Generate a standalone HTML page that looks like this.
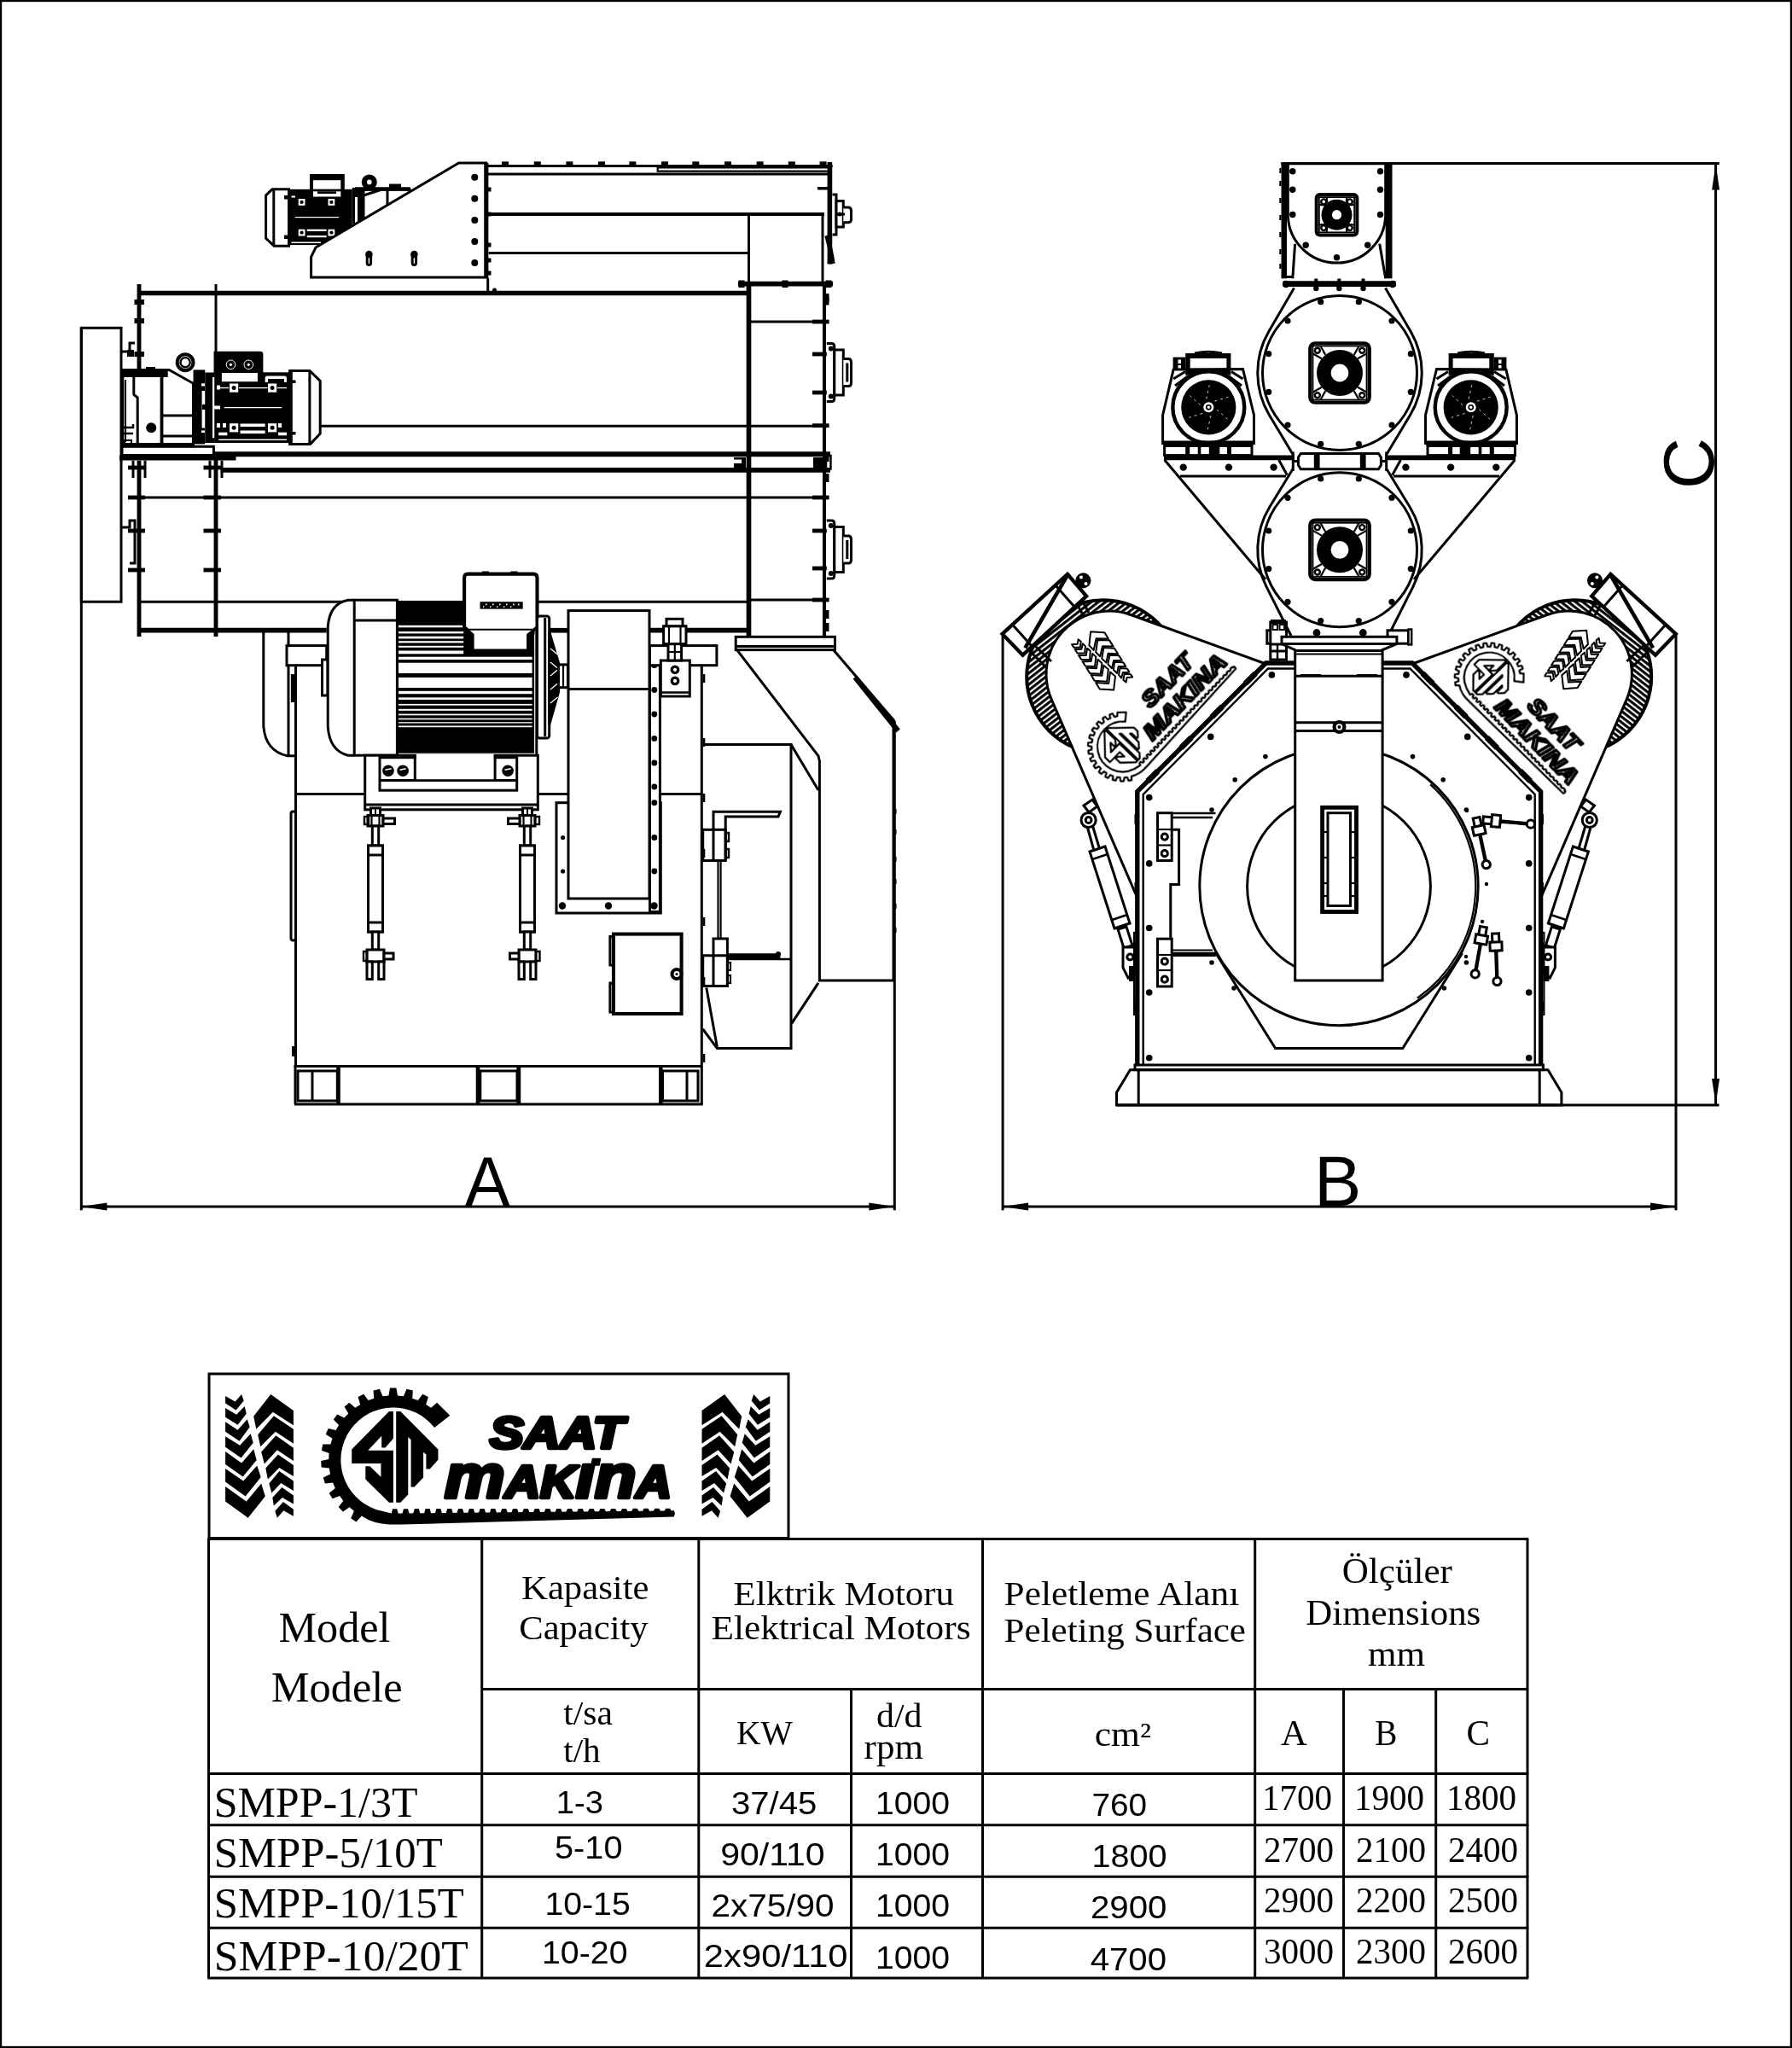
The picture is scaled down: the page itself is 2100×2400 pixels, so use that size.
<!DOCTYPE html>
<html><head><meta charset="utf-8">
<style>
html,body{margin:0;padding:0;background:#fff;}
body{width:2100px;height:2400px;overflow:hidden;position:relative;font-family:"Liberation Sans",sans-serif;}
svg{position:absolute;left:0;top:0;display:block;filter:grayscale(1);}
</style></head><body>
<svg width="2100" height="2400" viewBox="0 0 2100 2400">
<rect x="0" y="0" width="2100" height="2400" fill="#fff"/>
<rect x="1.1" y="1.1" width="2097.8" height="2397.8" fill="none" stroke="#000" stroke-width="2.2"/>
<defs>
<g id="tread">
<polygon points="264.1,1636.1 275.6,1642.6 283.1,1634.1 285.7,1641.6 276.6,1652.6 264.1,1644.6"/>
<polygon points="264.1,1650.1 277.1,1657.7 286.7,1648.1 288.7,1656.7 278.6,1669.7 264.1,1660.7"/>
<polygon points="264.1,1666.2 278.6,1675.7 289.7,1663.2 292.7,1672.2 280.6,1688.8 264.1,1677.8"/>
<polygon points="264.1,1683.3 281.1,1693.8 293.7,1680.3 296.7,1690.8 282.6,1708.4 264.1,1695.8"/>
<polygon points="264.1,1700.9 283.1,1714.4 297.2,1698.3 300.7,1710.9 284.7,1730.5 264.1,1715.9"/>
<polygon points="264.1,1720.9 285.2,1735.5 301.2,1717.4 305.7,1731.0 287.7,1753.6 264.1,1736.5"/>
<polygon points="264.1,1742.0 288.7,1759.6 306.2,1738.5 310.8,1753.6 290.7,1778.7 264.1,1759.6"/>
<polygon points="317.3,1634.1 343.9,1653.1 343.9,1670.2 319.8,1654.7 300.2,1674.7 297.2,1659.7"/>
<polygon points="320.8,1659.2 343.9,1674.7 343.9,1691.8 322.8,1677.8 305.2,1695.3 302.2,1681.3"/>
<polygon points="323.3,1682.3 343.9,1696.8 343.9,1711.9 324.8,1699.3 309.8,1715.4 306.2,1701.4"/>
<polygon points="325.8,1704.4 343.9,1716.9 343.9,1730.0 327.3,1719.9 313.8,1733.5 311.3,1720.4"/>
<polygon points="327.3,1724.0 343.9,1735.5 343.9,1747.1 329.3,1738.0 318.3,1749.6 315.3,1738.5"/>
<polygon points="330.4,1743.0 343.9,1752.6 343.9,1762.6 330.9,1755.1 320.8,1764.6 319.3,1755.1"/>
<polygon points="331.9,1760.1 343.9,1768.7 343.9,1776.7 332.4,1770.2 324.8,1778.7 322.3,1770.7"/>
</g>
<path id="gear" d="M509.1,1673.0 L527.3,1658.8 L512.1,1643.7 L505.1,1649.7 L499.2,1645.9 L501.9,1637.0 L495.2,1633.7 L489.8,1641.1 L483.2,1638.7 L483.8,1629.5 L476.5,1627.8 L472.9,1636.3 L466.0,1635.5 L464.4,1626.4 L457.0,1626.4 L455.4,1635.5 L448.5,1636.3 L444.9,1627.8 L437.6,1629.5 L438.2,1638.7 L431.6,1641.1 L426.2,1633.7 L419.5,1637.0 L422.2,1645.9 L416.3,1649.7 L409.3,1643.7 L403.6,1648.5 L408.3,1656.5 L403.4,1661.6 L395.2,1657.4 L390.8,1663.4 L397.1,1670.0 L393.6,1676.1 L384.7,1673.9 L381.7,1680.8 L389.5,1685.8 L387.4,1692.5 L378.2,1692.5 L376.9,1699.8 L385.6,1702.9 L385.2,1709.9 L376.2,1712.0 L376.6,1719.4 L385.8,1720.4 L387.0,1727.4 L378.8,1731.4 L380.9,1738.6 L390.1,1737.4 L392.8,1743.9 L385.7,1749.8 L389.5,1756.2 L398.1,1753.0 L402.3,1758.7 L396.7,1766.0 L401.9,1771.4 L409.5,1766.3 L414.9,1770.8 L411.2,1779.3 L417.4,1783.4 L423.7,1776.6 L432.2,1781.3 L439.8,1783.9 L447.5,1785.6 L455.4,1786.6 L470.0,1786.6 L789.7,1777.5 L791.0,1773.5 L789.7,1770.0 L786.7,1770.4 L785.2,1767.8 L780.2,1767.8 L778.7,1770.4 L773.9,1770.6 L772.4,1767.8 L767.4,1767.8 L765.9,1770.6 L761.1,1770.7 L759.6,1767.8 L754.6,1767.8 L753.1,1770.7 L748.3,1770.8 L746.8,1767.8 L741.8,1767.8 L740.3,1770.8 L735.5,1770.9 L734.0,1767.9 L729.0,1767.9 L727.5,1770.9 L722.7,1771.1 L721.2,1767.9 L716.2,1767.9 L714.7,1771.1 L709.9,1771.2 L708.4,1767.9 L703.4,1767.9 L701.9,1771.2 L697.1,1771.3 L695.6,1767.9 L690.6,1767.9 L689.1,1771.3 L684.3,1771.4 L682.8,1767.9 L677.8,1767.9 L676.3,1771.4 L671.5,1771.6 L670.0,1767.9 L665.0,1767.9 L663.5,1771.6 L658.7,1771.7 L657.2,1768.0 L652.2,1768.0 L650.7,1771.7 L645.9,1771.8 L644.4,1768.0 L639.4,1768.0 L637.9,1771.8 L633.1,1771.9 L631.6,1768.0 L626.6,1768.0 L625.1,1771.9 L620.3,1772.1 L618.8,1768.0 L613.8,1768.0 L612.3,1772.1 L607.5,1772.2 L606.0,1768.0 L601.0,1768.0 L599.5,1772.2 L594.7,1772.3 L593.2,1768.0 L588.2,1768.0 L586.7,1772.3 L581.9,1772.5 L580.4,1768.0 L575.4,1768.0 L573.9,1772.5 L569.1,1772.6 L567.6,1768.1 L562.6,1768.1 L561.1,1772.6 L556.3,1772.7 L554.8,1768.1 L549.8,1768.1 L548.3,1772.7 L543.5,1772.8 L542.0,1768.1 L537.0,1768.1 L535.5,1772.8 L530.7,1773.0 L529.2,1768.1 L524.2,1768.1 L522.7,1773.0 L517.9,1773.1 L516.4,1768.1 L511.4,1768.1 L509.9,1773.1 L505.1,1773.2 L503.6,1768.1 L498.6,1768.1 L497.1,1773.2 L492.3,1773.3 L490.8,1768.1 L485.8,1768.1 L484.3,1773.3 L479.5,1773.5 L478.0,1768.2 L473.0,1768.2 L471.5,1773.5 L466.7,1773.6 L465.2,1768.2 L460.2,1768.2 L458.7,1773.6 L440.7,1768.9 A61.4,61.4 0 1 1 509.1,1673.0 Z"/>
<g id="sm">
<polygon points="455.9,1654.1 460.9,1654.1 460.9,1685.7 451.5,1696.6 447.2,1696.6 447.2,1682.8 431.2,1699.8 460.9,1699.8 460.9,1760.8 455.9,1760.8 428.3,1733.6 428.3,1718.3 433.4,1718.3 446.4,1730.7 446.4,1715.1 412.2,1715.1 412.2,1698.4"/>
<polygon points="464.2,1654.1 469.3,1654.1 513.5,1698.4 513.5,1710.4 503.7,1721.6 499.4,1721.6 499.4,1704.6 496.1,1701.7 496.1,1731.4 485.6,1742.6 481.6,1742.6 481.6,1687.2 478.3,1683.9 478.3,1751.4 469.3,1760.8 464.2,1760.8"/>
</g>
<g id="ltxt" font-family="Liberation Sans" font-weight="bold" font-style="italic" stroke-linejoin="round">
<text x="574" y="1696.5" font-size="52" textLength="157" lengthAdjust="spacingAndGlyphs" stroke-width="4.5">SAAT</text>
<text x="521" y="1755" textLength="266" lengthAdjust="spacingAndGlyphs" stroke-width="4.6"><tspan font-size="73">m</tspan><tspan font-size="53">AK</tspan><tspan font-size="73">ın</tspan><tspan font-size="53">A</tspan></text>
<polygon points="694.5,1709.5 703.5,1709.5 702,1717 693,1717" stroke-width="1.5"/>
</g>
<g id="ltxt2" font-family="Liberation Sans" font-weight="bold" font-style="italic" stroke-linejoin="round" stroke-width="6.2">
<text x="574" y="1696.5" font-size="52" textLength="157" lengthAdjust="spacingAndGlyphs">SAAT</text>
<text x="521" y="1755" font-size="52" textLength="266" lengthAdjust="spacingAndGlyphs">MAKINA</text>
</g>
<g id="logo"><use href="#gear"/><use href="#sm"/><use href="#ltxt"/></g>
<pattern id="hatchL" width="5.2" height="5.2" patternUnits="userSpaceOnUse" patternTransform="rotate(-38)"><rect width="5.2" height="5.2" fill="#fff"/><rect width="5.2" height="3.1" fill="#000"/></pattern>
<pattern id="hatchR" width="5.2" height="5.2" patternUnits="userSpaceOnUse" patternTransform="rotate(38)"><rect width="5.2" height="5.2" fill="#fff"/><rect width="5.2" height="3.1" fill="#000"/></pattern>
<filter id="gray" x="-5%" y="-5%" width="110%" height="110%"><feColorMatrix type="saturate" values="0"/></filter>
</defs>
<rect x="245.0" y="1610.0" width="679.0" height="192.5" fill="none" stroke="#000" stroke-width="3.0"/>
<g fill="#000" stroke="#000">
<use href="#tread" stroke="none"/>
<use href="#tread" stroke="none" transform="translate(1166.4,0) scale(-1,1)"/>
<use href="#gear" stroke="none"/><use href="#sm" stroke="none"/><use href="#ltxt"/>
</g>
<line x1="243.3" y1="1803.5" x2="1791.2" y2="1803.5" stroke="#000" stroke-width="3.0" />
<line x1="243.3" y1="2078.5" x2="1791.2" y2="2078.5" stroke="#000" stroke-width="3.0" />
<line x1="243.3" y1="2138.8" x2="1791.2" y2="2138.8" stroke="#000" stroke-width="3.0" />
<line x1="243.3" y1="2199.2" x2="1791.2" y2="2199.2" stroke="#000" stroke-width="3.0" />
<line x1="243.3" y1="2259.3" x2="1791.2" y2="2259.3" stroke="#000" stroke-width="3.0" />
<line x1="243.3" y1="2318.0" x2="1791.2" y2="2318.0" stroke="#000" stroke-width="3.0" />
<line x1="564.7" y1="1979.5" x2="1790.0" y2="1979.5" stroke="#000" stroke-width="3.0" />
<line x1="244.5" y1="1803.5" x2="244.5" y2="2318.0" stroke="#000" stroke-width="3.0" />
<line x1="564.7" y1="1803.5" x2="564.7" y2="2318.0" stroke="#000" stroke-width="3.0" />
<line x1="818.8" y1="1803.5" x2="818.8" y2="2318.0" stroke="#000" stroke-width="3.0" />
<line x1="1151.5" y1="1803.5" x2="1151.5" y2="2318.0" stroke="#000" stroke-width="3.0" />
<line x1="1470.7" y1="1803.5" x2="1470.7" y2="2318.0" stroke="#000" stroke-width="3.0" />
<line x1="1790.0" y1="1803.5" x2="1790.0" y2="2318.0" stroke="#000" stroke-width="3.0" />
<line x1="997.5" y1="1979.5" x2="997.5" y2="2318.0" stroke="#000" stroke-width="3.0" />
<line x1="1574.5" y1="1979.5" x2="1574.5" y2="2318.0" stroke="#000" stroke-width="3.0" />
<line x1="1682.7" y1="1979.5" x2="1682.7" y2="2318.0" stroke="#000" stroke-width="3.0" />
<text x="326.4" y="1923.9" font-family="Liberation Serif" font-size="50" text-anchor="start" textLength="131.2" lengthAdjust="spacingAndGlyphs" >Model</text>
<text x="317.7" y="1993.5" font-family="Liberation Serif" font-size="50" text-anchor="start" textLength="154.0" lengthAdjust="spacingAndGlyphs" >Modele</text>
<text x="611.0" y="1873.7" font-family="Liberation Serif" font-size="40" text-anchor="start" textLength="149.6" lengthAdjust="spacingAndGlyphs" >Kapasite</text>
<text x="608.3" y="1920.6" font-family="Liberation Serif" font-size="40" text-anchor="start" textLength="151.3" lengthAdjust="spacingAndGlyphs" >Capacity</text>
<text x="660.2" y="2021.0" font-family="Liberation Serif" font-size="40" text-anchor="start" textLength="57.8" lengthAdjust="spacingAndGlyphs" >t/sa</text>
<text x="660.2" y="2064.5" font-family="Liberation Serif" font-size="40" text-anchor="start" textLength="43.5" lengthAdjust="spacingAndGlyphs" >t/h</text>
<text x="859.6" y="1881.0" font-family="Liberation Serif" font-size="40" text-anchor="start" textLength="258.4" lengthAdjust="spacingAndGlyphs" >Elktrik Motoru</text>
<text x="833.5" y="1921.2" font-family="Liberation Serif" font-size="40" text-anchor="start" textLength="304.0" lengthAdjust="spacingAndGlyphs" >Elektrical Motors</text>
<text x="863.0" y="2044.4" font-family="Liberation Serif" font-size="40" text-anchor="start" textLength="66.0" lengthAdjust="spacingAndGlyphs" >KW</text>
<text x="1027.0" y="2024.3" font-family="Liberation Serif" font-size="40" text-anchor="start" textLength="53.5" lengthAdjust="spacingAndGlyphs" >d/d</text>
<text x="1012.6" y="2061.2" font-family="Liberation Serif" font-size="40" text-anchor="start" textLength="69.3" lengthAdjust="spacingAndGlyphs" >rpm</text>
<text x="1176.6" y="1881.0" font-family="Liberation Serif" font-size="40" text-anchor="start" textLength="275.7" lengthAdjust="spacingAndGlyphs" >Peletleme Alanı</text>
<text x="1176.6" y="1924.0" font-family="Liberation Serif" font-size="40" text-anchor="start" textLength="283.4" lengthAdjust="spacingAndGlyphs" >Peleting Surface</text>
<text x="1282.8" y="2046.1" font-family="Liberation Serif" font-size="40" text-anchor="start" textLength="66.2" lengthAdjust="spacingAndGlyphs" >cm²</text>
<text x="1572.8" y="1855.3" font-family="Liberation Serif" font-size="43" text-anchor="start" textLength="129.0" lengthAdjust="spacingAndGlyphs" >Ölçüler</text>
<text x="1530.3" y="1903.8" font-family="Liberation Serif" font-size="43" text-anchor="start" textLength="205.0" lengthAdjust="spacingAndGlyphs" >Dimensions</text>
<text x="1603.0" y="1952.4" font-family="Liberation Serif" font-size="43" text-anchor="start" textLength="67.0" lengthAdjust="spacingAndGlyphs" >mm</text>
<text x="1500.9" y="2045.1" font-family="Liberation Serif" font-size="43" text-anchor="start" textLength="30.8" lengthAdjust="spacingAndGlyphs" >A</text>
<text x="1611.3" y="2045.1" font-family="Liberation Serif" font-size="43" text-anchor="start" textLength="26.2" lengthAdjust="spacingAndGlyphs" >B</text>
<text x="1718.5" y="2045.1" font-family="Liberation Serif" font-size="43" text-anchor="start" textLength="27.5" lengthAdjust="spacingAndGlyphs" >C</text>
<text x="250.7" y="2128.8" font-family="Liberation Serif" font-size="50" text-anchor="start" textLength="238.7" lengthAdjust="spacingAndGlyphs" >SMPP-1/3T</text>
<text x="250.7" y="2188.4" font-family="Liberation Serif" font-size="50" text-anchor="start" textLength="268.0" lengthAdjust="spacingAndGlyphs" >SMPP-5/10T</text>
<text x="250.7" y="2247.0" font-family="Liberation Serif" font-size="50" text-anchor="start" textLength="293.0" lengthAdjust="spacingAndGlyphs" >SMPP-10/15T</text>
<text x="250.7" y="2308.6" font-family="Liberation Serif" font-size="50" text-anchor="start" textLength="298.2" lengthAdjust="spacingAndGlyphs" >SMPP-10/20T</text>
<text x="651.8" y="2124.8" font-family="Liberation Sans" font-size="37" text-anchor="start" textLength="55.2" lengthAdjust="spacingAndGlyphs" >1-3</text>
<text x="650.0" y="2178.3" font-family="Liberation Sans" font-size="37" text-anchor="start" textLength="79.5" lengthAdjust="spacingAndGlyphs" >5-10</text>
<text x="638.4" y="2243.6" font-family="Liberation Sans" font-size="37" text-anchor="start" textLength="100.4" lengthAdjust="spacingAndGlyphs" >10-15</text>
<text x="635.0" y="2301.4" font-family="Liberation Sans" font-size="37" text-anchor="start" textLength="100.5" lengthAdjust="spacingAndGlyphs" >10-20</text>
<text x="856.9" y="2125.8" font-family="Liberation Sans" font-size="37" text-anchor="start" textLength="100.4" lengthAdjust="spacingAndGlyphs" >37/45</text>
<text x="844.2" y="2185.7" font-family="Liberation Sans" font-size="37" text-anchor="start" textLength="122.5" lengthAdjust="spacingAndGlyphs" >90/110</text>
<text x="833.5" y="2246.0" font-family="Liberation Sans" font-size="37" text-anchor="start" textLength="143.9" lengthAdjust="spacingAndGlyphs" >2x75/90</text>
<text x="824.8" y="2305.0" font-family="Liberation Sans" font-size="37" text-anchor="start" textLength="168.8" lengthAdjust="spacingAndGlyphs" >2x90/110</text>
<text x="1026.0" y="2125.8" font-family="Liberation Sans" font-size="37" text-anchor="start" textLength="87.0" lengthAdjust="spacingAndGlyphs" >1000</text>
<text x="1026.0" y="2185.7" font-family="Liberation Sans" font-size="37" text-anchor="start" textLength="87.0" lengthAdjust="spacingAndGlyphs" >1000</text>
<text x="1026.0" y="2246.0" font-family="Liberation Sans" font-size="37" text-anchor="start" textLength="87.0" lengthAdjust="spacingAndGlyphs" >1000</text>
<text x="1026.0" y="2307.2" font-family="Liberation Sans" font-size="37" text-anchor="start" textLength="87.0" lengthAdjust="spacingAndGlyphs" >1000</text>
<text x="1279.4" y="2127.5" font-family="Liberation Sans" font-size="37" text-anchor="start" textLength="64.6" lengthAdjust="spacingAndGlyphs" >760</text>
<text x="1279.4" y="2188.4" font-family="Liberation Sans" font-size="37" text-anchor="start" textLength="88.1" lengthAdjust="spacingAndGlyphs" >1800</text>
<text x="1278.0" y="2248.0" font-family="Liberation Sans" font-size="37" text-anchor="start" textLength="89.5" lengthAdjust="spacingAndGlyphs" >2900</text>
<text x="1277.7" y="2308.6" font-family="Liberation Sans" font-size="37" text-anchor="start" textLength="89.3" lengthAdjust="spacingAndGlyphs" >4700</text>
<text x="1479.0" y="2121.4" font-family="Liberation Serif" font-size="42" text-anchor="start" textLength="82.0" lengthAdjust="spacingAndGlyphs" >1700</text>
<text x="1587.0" y="2121.4" font-family="Liberation Serif" font-size="42" text-anchor="start" textLength="82.0" lengthAdjust="spacingAndGlyphs" >1900</text>
<text x="1695.0" y="2121.4" font-family="Liberation Serif" font-size="42" text-anchor="start" textLength="82.0" lengthAdjust="spacingAndGlyphs" >1800</text>
<text x="1481.0" y="2181.7" font-family="Liberation Serif" font-size="42" text-anchor="start" textLength="82.0" lengthAdjust="spacingAndGlyphs" >2700</text>
<text x="1589.0" y="2181.7" font-family="Liberation Serif" font-size="42" text-anchor="start" textLength="82.0" lengthAdjust="spacingAndGlyphs" >2100</text>
<text x="1697.0" y="2181.7" font-family="Liberation Serif" font-size="42" text-anchor="start" textLength="82.0" lengthAdjust="spacingAndGlyphs" >2400</text>
<text x="1481.0" y="2241.3" font-family="Liberation Serif" font-size="42" text-anchor="start" textLength="82.0" lengthAdjust="spacingAndGlyphs" >2900</text>
<text x="1589.0" y="2241.3" font-family="Liberation Serif" font-size="42" text-anchor="start" textLength="82.0" lengthAdjust="spacingAndGlyphs" >2200</text>
<text x="1697.0" y="2241.3" font-family="Liberation Serif" font-size="42" text-anchor="start" textLength="82.0" lengthAdjust="spacingAndGlyphs" >2500</text>
<text x="1481.0" y="2300.5" font-family="Liberation Serif" font-size="42" text-anchor="start" textLength="82.0" lengthAdjust="spacingAndGlyphs" >3000</text>
<text x="1589.0" y="2300.5" font-family="Liberation Serif" font-size="42" text-anchor="start" textLength="82.0" lengthAdjust="spacingAndGlyphs" >2300</text>
<text x="1697.0" y="2300.5" font-family="Liberation Serif" font-size="42" text-anchor="start" textLength="82.0" lengthAdjust="spacingAndGlyphs" >2600</text>
<line x1="95.3" y1="384.0" x2="95.3" y2="1418.3" stroke="#000" stroke-width="3.0" />
<line x1="1048.3" y1="845.0" x2="1048.3" y2="1418.3" stroke="#000" stroke-width="3.0" />
<line x1="95.3" y1="1414.0" x2="1048.3" y2="1414.0" stroke="#000" stroke-width="3.0" />
<polygon points="95.3,1414.0 125.3,1409.5 125.3,1418.5" fill="#000"/>
<polygon points="1048.3,1414.0 1018.3,1418.5 1018.3,1409.5" fill="#000"/>
<text x="544.6" y="1413.5" font-family="Liberation Sans" font-size="83" text-anchor="start" textLength="53.5" lengthAdjust="spacingAndGlyphs" >A</text>
<line x1="1175.1" y1="742.0" x2="1175.1" y2="1418.3" stroke="#000" stroke-width="3.0" />
<line x1="1964.0" y1="742.0" x2="1964.0" y2="1418.3" stroke="#000" stroke-width="3.0" />
<line x1="1175.1" y1="1414.0" x2="1964.0" y2="1414.0" stroke="#000" stroke-width="3.0" />
<polygon points="1175.1,1414.0 1205.1,1409.5 1205.1,1418.5" fill="#000"/>
<polygon points="1964.0,1414.0 1934.0,1418.5 1934.0,1409.5" fill="#000"/>
<text x="1540.0" y="1413.0" font-family="Liberation Sans" font-size="83" text-anchor="start" >B</text>
<line x1="1501.5" y1="191.5" x2="2014.8" y2="191.5" stroke="#000" stroke-width="3.0" />
<line x1="1308.5" y1="1295.0" x2="2014.6" y2="1295.0" stroke="#000" stroke-width="3.0" />
<line x1="2010.6" y1="191.5" x2="2010.6" y2="1295.0" stroke="#000" stroke-width="3.0" />
<polygon points="2010.6,192.5 2015.1,222.5 2006.1,222.5" fill="#000"/>
<polygon points="2010.6,1294.0 2006.1,1264.0 2015.1,1264.0" fill="#000"/>
<text transform="translate(2007.5,543) rotate(-90)" x="0" y="0" font-family="Liberation Sans" font-size="83" text-anchor="middle">C</text>
<g id="left">
<rect x="412.7" y="220.0" width="13.3" height="42.0" fill="#000"/>
<rect x="416.0" y="231.0" width="3.0" height="31.0" fill="#fff"/>
<rect x="405.5" y="228.0" width="2.8" height="38.0" fill="#fff"/>
<rect x="426.0" y="222.0" width="54.0" height="40.0" fill="#fff" stroke="#000" stroke-width="3.0"/>
<line x1="416.0" y1="221.5" x2="480.8" y2="221.5" stroke="#000" stroke-width="4.32" />
<line x1="454.0" y1="223.0" x2="454.0" y2="240.0" stroke="#000" stroke-width="3.0" />
<path d="M426.0,229.0 L446.0,222.5" fill="none" stroke="#000" stroke-width="3.0" stroke-linejoin="miter"/>
<circle cx="432.8" cy="213.4" r="9.0" fill="#000"/>
<circle cx="432.8" cy="213.4" r="2.8" fill="#fff"/>
<rect x="456.0" y="215.5" width="14.0" height="5.5" fill="#000"/>
<path d="M319.0,221.8 L338.5,221.8 L338.5,288.2 L321.2,288.2 L311.6,279.3 L311.6,229.0 Z" fill="#fff" stroke="#000" stroke-width="3.0" stroke-linejoin="miter"/>
<line x1="320.8" y1="223.0" x2="320.8" y2="287.0" stroke="#000" stroke-width="3.0" />
<rect x="363.0" y="204.0" width="40.8" height="20.0" fill="#000"/>
<rect x="367.0" y="211.2" width="32.3" height="10.6" fill="#fff"/>
<rect x="338.5" y="221.8" width="74.2" height="65.3" fill="#000"/>
<rect x="367.0" y="224.3" width="32.3" height="6.2" fill="#fff"/>
<rect x="372.0" y="224.3" width="22.0" height="2.7" fill="#000"/>
<rect x="349.7" y="233.0" width="7.8" height="7.8" fill="#fff"/>
<circle cx="353.6" cy="236.9" r="2.1" fill="#000"/>
<rect x="384.5" y="233.0" width="7.8" height="7.8" fill="#fff"/>
<circle cx="388.4" cy="236.9" r="2.1" fill="#000"/>
<rect x="349.7" y="268.7" width="7.8" height="7.8" fill="#fff"/>
<circle cx="353.6" cy="272.6" r="2.1" fill="#000"/>
<rect x="384.5" y="268.7" width="7.8" height="7.8" fill="#fff"/>
<circle cx="388.4" cy="272.6" r="2.1" fill="#000"/>
<rect x="345.8" y="254.0" width="51.3" height="1.2" fill="#fff"/>
<rect x="359.7" y="268.7" width="22.9" height="2.3" fill="#fff"/>
<rect x="359.7" y="276.0" width="22.9" height="2.2" fill="#fff"/>
<rect x="341.5" y="229.5" width="4.5" height="2.0" fill="#fff"/>
<rect x="341.5" y="283.5" width="34.5" height="1.5" fill="#fff"/>
<rect x="333.0" y="229.0" width="5.5" height="4.5" fill="#000"/>
<rect x="333.0" y="275.5" width="5.5" height="4.5" fill="#000"/>
<path d="M364.6,324.9 L364.6,301.0 L370.0,290.0 L537.6,190.9 L569.7,190.9 L569.7,324.9 Z" fill="#fff" stroke="#000" stroke-width="3.0" stroke-linejoin="miter"/>
<circle cx="556.3" cy="207.7" r="4.0" fill="#000"/>
<circle cx="556.3" cy="232.8" r="4.0" fill="#000"/>
<circle cx="556.3" cy="257.9" r="4.0" fill="#000"/>
<circle cx="556.3" cy="283.0" r="4.0" fill="#000"/>
<circle cx="556.3" cy="308.1" r="4.0" fill="#000"/>
<rect x="430.2" y="296.5" width="4.4" height="14.0" fill="#fff" stroke="#000" stroke-width="3.0" rx="2.2"/>
<circle cx="432.4" cy="298.0" r="4.3" fill="#000"/>
<rect x="483.2" y="296.5" width="4.4" height="14.0" fill="#fff" stroke="#000" stroke-width="3.0" rx="2.2"/>
<circle cx="485.4" cy="298.0" r="4.3" fill="#000"/>
<line x1="569.8" y1="191.0" x2="569.8" y2="326.0" stroke="#000" stroke-width="5.13" />
<rect x="571.0" y="219.5" width="4.5" height="5.0" fill="#000"/>
<rect x="571.0" y="248.5" width="4.5" height="5.0" fill="#000"/>
<rect x="571.0" y="284.5" width="4.5" height="5.0" fill="#000"/>
<rect x="571.0" y="302.5" width="4.5" height="5.0" fill="#000"/>
<rect x="571.0" y="317.5" width="4.5" height="5.0" fill="#000"/>
<line x1="571.7" y1="326.0" x2="571.7" y2="342.0" stroke="#000" stroke-width="3.0" />
<circle cx="579.5" cy="340.0" r="2.5" fill="#000"/>
<line x1="568.0" y1="194.5" x2="975.7" y2="194.5" stroke="#000" stroke-width="3.0" />
<line x1="570.0" y1="204.0" x2="970.0" y2="204.0" stroke="#000" stroke-width="3.0" />
<path d="M970,196.4 L770.7,196.4 L770.7,200.6 L970,200.6" fill="none" stroke="#000" stroke-width="2.16"/>
<rect x="588.0" y="189.3" width="8.0" height="3.7" fill="#000"/>
<rect x="625.8" y="189.3" width="8.0" height="3.7" fill="#000"/>
<rect x="663.4" y="189.3" width="8.0" height="3.7" fill="#000"/>
<rect x="701.0" y="189.3" width="8.0" height="3.7" fill="#000"/>
<rect x="737.4" y="189.3" width="8.0" height="3.7" fill="#000"/>
<rect x="775.0" y="189.3" width="8.0" height="3.7" fill="#000"/>
<rect x="811.3" y="189.3" width="8.0" height="3.7" fill="#000"/>
<rect x="849.0" y="189.3" width="8.0" height="3.7" fill="#000"/>
<rect x="886.6" y="189.3" width="8.0" height="3.7" fill="#000"/>
<rect x="923.8" y="189.3" width="8.0" height="3.7" fill="#000"/>
<rect x="960.6" y="189.3" width="8.0" height="3.7" fill="#000"/>
<line x1="572.6" y1="251.0" x2="966.0" y2="251.0" stroke="#000" stroke-width="4.05" />
<line x1="572.6" y1="296.4" x2="876.7" y2="296.4" stroke="#000" stroke-width="3.0" />
<line x1="877.5" y1="251.0" x2="877.5" y2="332.7" stroke="#000" stroke-width="3.0" />
<line x1="964.0" y1="251.0" x2="964.0" y2="331.8" stroke="#000" stroke-width="3.0" />
<line x1="972.4" y1="190.0" x2="972.4" y2="309.5" stroke="#000" stroke-width="5.67" />
<rect x="958.0" y="219.0" width="14.0" height="3.5" fill="#000"/>
<line x1="865.0" y1="332.7" x2="976.0" y2="332.7" stroke="#000" stroke-width="5.67" />
<rect x="865.5" y="328.5" width="7.0" height="8.5" fill="#000"/>
<rect x="916.5" y="328.5" width="7.0" height="8.5" fill="#000"/>
<rect x="967.5" y="328.5" width="7.0" height="8.5" fill="#000"/>
<path d="M975.5,228 L980,228 L980,275 L975.5,275" fill="#fff" stroke="#000" stroke-width="3.0"/>
<rect x="980.0" y="235.6" width="8.3" height="30.4" fill="#fff" stroke="#000" stroke-width="3.0"/>
<path d="M988.3,243 L994,243 Q997.5,243 997.5,247 L997.5,257 Q997.5,260.7 994,260.7 L988.3,260.7" fill="#fff" stroke="#000" stroke-width="3.0"/>
<circle cx="984.0" cy="251.0" r="2.5" fill="#000"/>
<line x1="980.0" y1="251.0" x2="990.0" y2="251.0" stroke="#000" stroke-width="3.0" />
<path d="M969,276 Q974,295 976,309" fill="none" stroke="#000" stroke-width="5.4"/>
<line x1="162.3" y1="343.5" x2="875.0" y2="343.5" stroke="#000" stroke-width="5.67" />
<line x1="163.0" y1="333.0" x2="163.0" y2="437.0" stroke="#000" stroke-width="4.86" />
<line x1="163.0" y1="539.7" x2="163.0" y2="746.0" stroke="#000" stroke-width="4.86" />
<line x1="253.0" y1="333.0" x2="253.0" y2="412.0" stroke="#000" stroke-width="3.0" />
<line x1="253.0" y1="533.0" x2="253.0" y2="746.0" stroke="#000" stroke-width="4.86" />
<rect x="157.5" y="351.0" width="11.5" height="6.0" fill="#000"/>
<rect x="157.5" y="373.0" width="11.5" height="6.0" fill="#000"/>
<rect x="157.5" y="412.0" width="11.5" height="6.0" fill="#000"/>
<rect x="150.0" y="545.6" width="20.0" height="4.8" fill="#000"/>
<rect x="238.5" y="545.6" width="20.5" height="4.8" fill="#000"/>
<rect x="150.0" y="580.6" width="20.0" height="4.8" fill="#000"/>
<rect x="238.5" y="580.6" width="20.5" height="4.8" fill="#000"/>
<rect x="150.0" y="619.6" width="20.0" height="4.8" fill="#000"/>
<rect x="238.5" y="619.6" width="20.5" height="4.8" fill="#000"/>
<rect x="150.0" y="665.6" width="20.0" height="4.8" fill="#000"/>
<rect x="238.5" y="665.6" width="20.5" height="4.8" fill="#000"/>
<line x1="156.0" y1="539.7" x2="156.0" y2="560.0" stroke="#000" stroke-width="3.0" />
<line x1="170.0" y1="539.7" x2="170.0" y2="560.0" stroke="#000" stroke-width="3.0" />
<line x1="246.0" y1="539.7" x2="246.0" y2="560.0" stroke="#000" stroke-width="3.0" />
<line x1="260.0" y1="539.7" x2="260.0" y2="560.0" stroke="#000" stroke-width="3.0" />
<rect x="95.3" y="384.3" width="46.7" height="320.9" fill="none" stroke="#000" stroke-width="3.0"/>
<path d="M142,412 L152,412 L152,402 L158,402" fill="none" stroke="#000" stroke-width="3.0"/>
<path d="M142,618 L152,618 L152,610 L158,610 L158,660 L152,660" fill="none" stroke="#000" stroke-width="3.0"/>
<rect x="149.0" y="410.0" width="8.0" height="8.0" fill="#000"/>
<line x1="877.5" y1="332.7" x2="877.5" y2="746.3" stroke="#000" stroke-width="5.67" />
<line x1="966.0" y1="334.6" x2="966.0" y2="745.0" stroke="#000" stroke-width="4.05" />
<line x1="878.0" y1="377.0" x2="966.0" y2="377.0" stroke="#000" stroke-width="3.0" />
<line x1="875.3" y1="703.0" x2="968.8" y2="703.0" stroke="#000" stroke-width="3.0" />
<line x1="374.0" y1="499.2" x2="966.0" y2="499.2" stroke="#000" stroke-width="3.0" />
<line x1="250.0" y1="532.2" x2="973.0" y2="532.2" stroke="#000" stroke-width="5.94" />
<line x1="258.6" y1="550.9" x2="973.0" y2="550.9" stroke="#000" stroke-width="5.94" />
<rect x="860.0" y="536.0" width="14.0" height="13.0" fill="#000"/>
<rect x="860.0" y="538.5" width="9.0" height="4.5" fill="#fff"/>
<rect x="953.0" y="536.0" width="14.0" height="13.0" fill="#000"/>
<rect x="968.0" y="534.0" width="5.5" height="15.5" fill="none" stroke="#000" stroke-width="2.43"/>
<line x1="150.0" y1="583.0" x2="966.0" y2="583.0" stroke="#000" stroke-width="3.0" />
<line x1="163.7" y1="705.2" x2="415.0" y2="705.2" stroke="#000" stroke-width="3.0" />
<line x1="628.4" y1="705.2" x2="875.0" y2="705.2" stroke="#000" stroke-width="3.0" />
<line x1="162.0" y1="738.7" x2="382.7" y2="738.7" stroke="#000" stroke-width="5.67" />
<line x1="643.7" y1="738.7" x2="665.5" y2="738.7" stroke="#000" stroke-width="5.67" />
<line x1="761.5" y1="738.7" x2="875.0" y2="738.7" stroke="#000" stroke-width="5.67" />
<rect x="952.0" y="374.6" width="19.6" height="4.8" fill="#000"/>
<rect x="952.0" y="412.6" width="19.6" height="4.8" fill="#000"/>
<rect x="952.0" y="457.6" width="19.6" height="4.8" fill="#000"/>
<rect x="952.0" y="496.3" width="19.6" height="4.8" fill="#000"/>
<rect x="952.0" y="580.6" width="19.6" height="4.8" fill="#000"/>
<rect x="952.0" y="619.6" width="19.6" height="4.8" fill="#000"/>
<rect x="952.0" y="663.6" width="19.6" height="4.8" fill="#000"/>
<rect x="952.0" y="700.6" width="19.6" height="4.8" fill="#000"/>
<rect x="966.0" y="344.0" width="5.5" height="10.0" fill="#000"/>
<rect x="966.0" y="347.5" width="5.5" height="10.0" fill="#000"/>
<rect x="966.0" y="531.0" width="5.5" height="10.0" fill="#000"/>
<rect x="966.0" y="555.0" width="5.5" height="10.0" fill="#000"/>
<rect x="966.0" y="715.0" width="5.5" height="10.0" fill="#000"/>
<rect x="966.0" y="730.0" width="5.5" height="10.0" fill="#000"/>
<path d="M968.8,402.5 L974.8,402.5 Q977.8,402.5 977.8,406.5 L977.8,466.5 Q977.8,470.5 974.8,470.5 L968.8,470.5" fill="#fff" stroke="#000" stroke-width="3.0"/>
<rect x="977.8" y="410.0" width="10.5" height="53.0" fill="#fff" stroke="#000" stroke-width="3.0"/>
<path d="M988.3,420.5 L994.3,420.5 Q997.5,420.5 997.5,424.5 L997.5,448.5 Q997.5,452.5 994.3,452.5 L988.3,452.5" fill="#fff" stroke="#000" stroke-width="3.0"/>
<line x1="992.8" y1="425.5" x2="992.8" y2="447.5" stroke="#000" stroke-width="3.0" />
<circle cx="973.8" cy="408.5" r="3.0" fill="#000"/>
<circle cx="973.8" cy="464.5" r="3.0" fill="#000"/>
<path d="M968.8,610 L974.8,610 Q977.8,610 977.8,614 L977.8,674 Q977.8,678 974.8,678 L968.8,678" fill="#fff" stroke="#000" stroke-width="3.0"/>
<rect x="977.8" y="617.5" width="10.5" height="53.0" fill="#fff" stroke="#000" stroke-width="3.0"/>
<path d="M988.3,628 L994.3,628 Q997.5,628 997.5,632 L997.5,656 Q997.5,660 994.3,660 L988.3,660" fill="#fff" stroke="#000" stroke-width="3.0"/>
<line x1="992.8" y1="633.0" x2="992.8" y2="655.0" stroke="#000" stroke-width="3.0" />
<circle cx="973.8" cy="616.0" r="3.0" fill="#000"/>
<circle cx="973.8" cy="672.0" r="3.0" fill="#000"/>
<rect x="143.0" y="523.3" width="107.4" height="10.2" fill="#fff" stroke="#000" stroke-width="3.0"/>
<line x1="140.0" y1="536.6" x2="276.5" y2="536.6" stroke="#000" stroke-width="5.67" />
<path d="M143.8,442.0 L143.8,520.4 L226.5,520.4 L226.5,449.3 L198.2,433.4 L143.8,433.4 Z" fill="#fff" stroke="#000" stroke-width="3.0" stroke-linejoin="miter"/>
<rect x="143.0" y="432.0" width="53.7" height="10.0" fill="#000"/>
<line x1="189.5" y1="442.0" x2="189.5" y2="523.3" stroke="#000" stroke-width="3.78" />
<line x1="189.5" y1="487.0" x2="226.5" y2="487.0" stroke="#000" stroke-width="3.0" />
<line x1="189.5" y1="511.0" x2="226.5" y2="511.0" stroke="#000" stroke-width="3.0" />
<path d="M156.8,442.0 L156.8,462.4 L161.2,466.0 L161.2,520.4" fill="none" stroke="#000" stroke-width="3.0" stroke-linejoin="miter"/>
<line x1="147.0" y1="445.0" x2="147.0" y2="518.0" stroke="#000" stroke-width="2.03" />
<circle cx="177.2" cy="501.3" r="6.0" fill="#000"/>
<rect x="171.0" y="430.0" width="11.0" height="3.0" fill="#000"/>
<path d="M145,501 L156,501 L156,497 M145,508 L156,508" fill="none" stroke="#000" stroke-width="2.43"/>
<rect x="146.0" y="516.0" width="8.0" height="4.0" fill="none" stroke="#000" stroke-width="2.03"/>
<circle cx="217.1" cy="424.7" r="9.4" fill="#fff" stroke="#000" stroke-width="4.05"/>
<circle cx="217.1" cy="424.7" r="5.6" fill="none" stroke="#000" stroke-width="2.43"/>
<rect x="226.5" y="433.4" width="13.8" height="87.0" fill="#000"/>
<rect x="236.6" y="458.0" width="3.7" height="43.6" fill="#fff"/>
<rect x="236.0" y="449.3" width="4.3" height="3.2" fill="#fff"/>
<rect x="236.0" y="504.5" width="4.3" height="2.5" fill="#fff"/>
<rect x="240.3" y="436.5" width="11.6" height="82.5" fill="#000"/>
<rect x="249.0" y="442.0" width="2.2" height="71.2" fill="#fff"/>
<rect x="237.0" y="474.0" width="6.0" height="6.0" fill="#000"/>
<path d="M251.2,436.3 L251.2,412.3 L305,412.3 Q307.7,412.3 307.7,415 L307.7,436.3 Z" fill="#000" stroke="#000" stroke-width="1.35"/>
<circle cx="270.5" cy="427.3" r="5.2" fill="#000" stroke="#000" stroke-width="1.76"/>
<circle cx="270.5" cy="427.3" r="5.3" fill="none" stroke="#fff" stroke-width="1"/>
<circle cx="270.5" cy="427.3" r="1.6" fill="#fff"/>
<circle cx="291.3" cy="427.3" r="5.2" fill="#000" stroke="#000" stroke-width="1.76"/>
<circle cx="291.3" cy="427.3" r="5.3" fill="none" stroke="#fff" stroke-width="1"/>
<circle cx="291.3" cy="427.3" r="1.6" fill="#fff"/>
<rect x="251.9" y="436.3" width="87.8" height="82.7" fill="#000"/>
<rect x="259.9" y="437.0" width="42.0" height="10.2" fill="#fff"/>
<path d="M310.6,447.9 L310.6,443 Q310.6,440.6 313,440.6 L333.5,440.6 Q336,440.6 336,443 L336,447.9 Z" fill="#fff" stroke="#000" stroke-width="0.14"/>
<rect x="314.0" y="444.0" width="19.0" height="4.0" fill="#000"/>
<rect x="254.0" y="451.5" width="4.0" height="5.0" fill="#fff"/>
<rect x="256.2" y="453.9" width="11.8" height="1.3" fill="#fff"/>
<rect x="280.0" y="453.9" width="33.5" height="1.3" fill="#fff"/>
<rect x="325.0" y="453.9" width="11.0" height="1.3" fill="#fff"/>
<rect x="262.8" y="477.0" width="67.4" height="1.3" fill="#fff"/>
<rect x="249.0" y="475.5" width="9.0" height="4.0" fill="#fff"/>
<rect x="281.6" y="496.5" width="29.0" height="3.6" fill="#fff"/>
<rect x="281.6" y="504.5" width="29.0" height="3.6" fill="#fff"/>
<rect x="254.0" y="496.0" width="4.0" height="5.0" fill="#fff"/>
<rect x="261.0" y="496.0" width="4.0" height="5.0" fill="#fff"/>
<rect x="326.0" y="496.0" width="4.0" height="5.0" fill="#fff"/>
<rect x="256.2" y="506.7" width="10.2" height="3.6" fill="#fff"/>
<rect x="326.0" y="506.7" width="10.0" height="3.6" fill="#fff"/>
<rect x="256.2" y="514.6" width="79.8" height="1.4" fill="#fff"/>
<rect x="269.0" y="449.5" width="10.2" height="10.2" fill="#fff"/>
<circle cx="274.1" cy="454.6" r="2.5" fill="#000"/>
<rect x="314.0" y="449.5" width="10.2" height="10.2" fill="#fff"/>
<circle cx="319.1" cy="454.6" r="2.5" fill="#000"/>
<rect x="269.0" y="496.2" width="10.2" height="10.2" fill="#fff"/>
<circle cx="274.1" cy="501.3" r="2.5" fill="#000"/>
<rect x="314.0" y="496.2" width="10.2" height="10.2" fill="#fff"/>
<circle cx="319.1" cy="501.3" r="2.5" fill="#000"/>
<path d="M339.7,434.5 L362.9,434.5 L375.2,446.4 L375.2,508.1 L363.6,520.4 L339.7,520.4 Z" fill="#fff" stroke="#000" stroke-width="3.0" stroke-linejoin="miter"/>
<line x1="340.5" y1="434.5" x2="340.5" y2="520.4" stroke="#000" stroke-width="4.59" />
<line x1="362.9" y1="436.0" x2="362.9" y2="519.0" stroke="#000" stroke-width="3.0" />
<rect x="341.0" y="445.5" width="5.5" height="3.5" fill="#000"/>
<rect x="341.0" y="506.0" width="5.5" height="3.5" fill="#000"/>
<path d="M308.8,738.7 L308.8,851 Q311,880 336.7,885.8 L346.5,885.8" fill="none" stroke="#000" stroke-width="3.0"/>
<line x1="338.0" y1="738.7" x2="338.0" y2="885.8" stroke="#000" stroke-width="3.0" />
<rect x="336.0" y="756.6" width="46.7" height="23.1" fill="#fff" stroke="#000" stroke-width="3.0"/>
<rect x="377.5" y="773.0" width="6.5" height="42.0" fill="#fff" stroke="#000" stroke-width="3.0"/>
<line x1="343.2" y1="790.0" x2="343.2" y2="823.0" stroke="#000" stroke-width="4.59" />
<line x1="346.5" y1="779.7" x2="346.5" y2="1248.0" stroke="#000" stroke-width="3.0" />
<line x1="822.3" y1="779.7" x2="822.3" y2="1248.0" stroke="#000" stroke-width="3.0" />
<line x1="346.5" y1="930.4" x2="427.4" y2="930.4" stroke="#000" stroke-width="3.0" />
<line x1="629.8" y1="930.4" x2="665.5" y2="930.4" stroke="#000" stroke-width="3.0" />
<line x1="773.4" y1="930.4" x2="822.3" y2="930.4" stroke="#000" stroke-width="3.0" />
<rect x="341.0" y="951.0" width="5.5" height="151.0" fill="none" stroke="#000" stroke-width="3.0" rx="2.5"/>
<rect x="342.0" y="1226.0" width="3.5" height="12.0" fill="#000"/>
<path d="M415.2,703.2 L408,703.2 Q386,707 384.2,735 L384.2,851 Q386,880 408,885.2 L415.2,885.2" fill="#fff" stroke="#000" stroke-width="3.0"/>
<rect x="415.2" y="703.2" width="50.2" height="182.0" fill="#fff" stroke="#000" stroke-width="3.0"/>
<line x1="415.2" y1="727.0" x2="465.4" y2="727.0" stroke="#000" stroke-width="3.0" />
<rect x="465.4" y="703.9" width="160.7" height="178.8" fill="#000"/>
<rect x="467.0" y="732.8" width="76.2" height="2.5" fill="#fff"/>
<rect x="467.0" y="740.0" width="76.2" height="2.4" fill="#fff"/>
<rect x="467.0" y="745.7" width="76.2" height="2.7" fill="#fff"/>
<rect x="467.0" y="751.2" width="76.2" height="2.2" fill="#fff"/>
<rect x="467.0" y="756.8" width="76.2" height="2.0" fill="#fff"/>
<rect x="467.0" y="762.5" width="76.2" height="3.8" fill="#fff"/>
<rect x="467.0" y="769.7" width="156.6" height="3.3" fill="#fff"/>
<rect x="467.0" y="776.7" width="156.6" height="12.2" fill="#fff"/>
<rect x="467.0" y="793.9" width="156.6" height="12.1" fill="#fff"/>
<rect x="467.0" y="809.8" width="156.6" height="3.4" fill="#fff"/>
<rect x="467.0" y="817.4" width="156.6" height="2.5" fill="#fff"/>
<rect x="467.0" y="824.9" width="156.6" height="1.7" fill="#fff"/>
<rect x="467.0" y="830.8" width="156.6" height="2.0" fill="#fff"/>
<rect x="467.0" y="836.6" width="156.6" height="1.7" fill="#fff"/>
<rect x="467.0" y="841.7" width="156.6" height="1.6" fill="#fff"/>
<rect x="467.0" y="846.2" width="156.6" height="1.3" fill="#fff"/>
<rect x="467.0" y="850.5" width="156.6" height="1.7" fill="#fff"/>
<path d="M544.1,677 Q544.1,672.6 548.5,672.6 L625,672.6 Q629.5,672.6 629.5,677 L629.5,735 L625.3,738.7 L548.3,738.7 L544.1,735 Z" fill="#fff" stroke="#000" stroke-width="4.05"/>
<path d="M548.3,738.7 L554.1,743.7 L554.1,762.1 L618.6,762.1 L618.6,743.7 L625.3,738.7" fill="#fff" stroke="#000" stroke-width="3.0"/>
<line x1="548.3" y1="740.5" x2="551.5" y2="760.0" stroke="#000" stroke-width="3.0" />
<line x1="625.3" y1="740.5" x2="622.0" y2="760.0" stroke="#000" stroke-width="3.0" />
<rect x="544.1" y="762.1" width="82.0" height="6.7" fill="#000"/>
<rect x="562.5" y="705.2" width="50.2" height="8.4" fill="#000"/>
<rect x="569.0" y="707.5" width="1.6" height="1.8" fill="#fff"/>
<rect x="577.0" y="707.5" width="1.6" height="1.8" fill="#fff"/>
<rect x="585.0" y="707.5" width="1.6" height="1.8" fill="#fff"/>
<rect x="593.0" y="707.5" width="1.6" height="1.8" fill="#fff"/>
<rect x="601.0" y="707.5" width="1.6" height="1.8" fill="#fff"/>
<rect x="607.0" y="707.5" width="1.6" height="1.8" fill="#fff"/>
<rect x="566.0" y="710.3" width="1.4" height="1.5" fill="#fff"/>
<rect x="574.0" y="710.3" width="1.4" height="1.5" fill="#fff"/>
<rect x="582.0" y="710.3" width="1.4" height="1.5" fill="#fff"/>
<rect x="590.0" y="710.3" width="1.4" height="1.5" fill="#fff"/>
<rect x="598.0" y="710.3" width="1.4" height="1.5" fill="#fff"/>
<rect x="565.0" y="669.5" width="8.0" height="3.1" fill="#000"/>
<rect x="598.5" y="669.5" width="8.0" height="3.1" fill="#000"/>
<line x1="628.8" y1="738.0" x2="628.8" y2="884.0" stroke="#000" stroke-width="3.0" />
<rect x="629.5" y="722.0" width="14.2" height="143.1" fill="#fff" stroke="#000" stroke-width="3.0" rx="3"/>
<line x1="638.7" y1="724.0" x2="638.7" y2="863.0" stroke="#000" stroke-width="3.0" />
<path d="M643.7,740.4 L654.6,777.2 L654.6,810.7 L643.7,849.2 Z" fill="#000" stroke="#000" stroke-width="3.0" stroke-linejoin="miter"/>
<line x1="645" y1="760" x2="653.5" y2="767" stroke="#fff" stroke-width="1.3"/>
<line x1="645" y1="776" x2="653.5" y2="783" stroke="#fff" stroke-width="1.3"/>
<line x1="645" y1="792" x2="653.5" y2="785" stroke="#fff" stroke-width="1.3"/>
<line x1="645" y1="808" x2="653.5" y2="801" stroke="#fff" stroke-width="1.3"/>
<line x1="645" y1="824" x2="653.5" y2="817" stroke="#fff" stroke-width="1.3"/>
<rect x="654.6" y="778.9" width="10.9" height="26.8" fill="#fff" stroke="#000" stroke-width="3.0"/>
<line x1="660.0" y1="778.9" x2="660.0" y2="805.7" stroke="#000" stroke-width="2.16" />
<rect x="427.7" y="885.2" width="202.6" height="63.6" fill="#fff" stroke="#000" stroke-width="3.0"/>
<line x1="427.7" y1="943.0" x2="630.3" y2="943.0" stroke="#000" stroke-width="3.0" />
<rect x="445.0" y="887.7" width="160.7" height="38.5" fill="#fff" stroke="#000" stroke-width="3.0"/>
<line x1="445.0" y1="914.5" x2="605.7" y2="914.5" stroke="#000" stroke-width="3.0" />
<rect x="487.6" y="883.5" width="91.2" height="29.7" fill="#fff"/>
<line x1="486.3" y1="884.0" x2="486.3" y2="914.5" stroke="#000" stroke-width="3.0" />
<line x1="580.1" y1="884.0" x2="580.1" y2="914.5" stroke="#000" stroke-width="3.0" />
<circle cx="455.0" cy="903.3" r="6.8" fill="#000"/>
<line x1="451.4" y1="902.3" x2="458.6" y2="900.8" stroke="#fff" stroke-width="1.4"/>
<circle cx="472.1" cy="903.3" r="6.8" fill="#000"/>
<line x1="468.5" y1="902.3" x2="475.70000000000005" y2="900.8" stroke="#fff" stroke-width="1.4"/>
<circle cx="595.1" cy="903.3" r="6.8" fill="#000"/>
<line x1="591.5" y1="902.3" x2="598.7" y2="900.8" stroke="#fff" stroke-width="1.4"/>
<rect x="434.5" y="947.0" width="11.0" height="8.5" fill="#fff" stroke="#000" stroke-width="3.0"/>
<line x1="440.0" y1="947.0" x2="440.0" y2="955.5" stroke="#000" stroke-width="2.03" />
<rect x="431.0" y="955.5" width="18.0" height="12.5" fill="#fff" stroke="#000" stroke-width="3.0"/>
<line x1="435.5" y1="955.5" x2="435.5" y2="968.0" stroke="#000" stroke-width="2.16" />
<line x1="444.5" y1="955.5" x2="444.5" y2="968.0" stroke="#000" stroke-width="2.16" />
<rect x="436.3" y="968.0" width="7.4" height="23.0" fill="#fff" stroke="#000" stroke-width="3.0"/>
<rect x="431.5" y="991.0" width="17.0" height="101.0" fill="#fff" stroke="#000" stroke-width="3.0"/>
<rect x="431.5" y="991.0" width="17.0" height="11.0" fill="#fff" stroke="#000" stroke-width="3.0"/>
<rect x="431.5" y="1081.0" width="17.0" height="11.0" fill="#fff" stroke="#000" stroke-width="3.0"/>
<rect x="436.3" y="1092.0" width="7.4" height="21.0" fill="#fff" stroke="#000" stroke-width="3.0"/>
<rect x="430.0" y="1113.0" width="20.0" height="14.0" fill="#fff" stroke="#000" stroke-width="3.0"/>
<rect x="430.0" y="1127.0" width="6.3" height="20.5" fill="#fff" stroke="#000" stroke-width="3.0"/>
<rect x="443.7" y="1127.0" width="6.3" height="20.5" fill="#fff" stroke="#000" stroke-width="3.0"/>
<rect x="449.0" y="959.0" width="13.5" height="6.5" fill="#fff" stroke="#000" stroke-width="3.0"/>
<rect x="427.0" y="957.0" width="5.0" height="9.0" fill="none" stroke="#000" stroke-width="2.43"/>
<rect x="450.0" y="1117.0" width="11.0" height="7.0" fill="#fff" stroke="#000" stroke-width="3.0"/>
<rect x="426.0" y="1115.0" width="4.0" height="11.0" fill="none" stroke="#000" stroke-width="2.43"/>
<rect x="612.5" y="947.0" width="11.0" height="8.5" fill="#fff" stroke="#000" stroke-width="3.0"/>
<line x1="618.0" y1="947.0" x2="618.0" y2="955.5" stroke="#000" stroke-width="2.03" />
<rect x="609.0" y="955.5" width="18.0" height="12.5" fill="#fff" stroke="#000" stroke-width="3.0"/>
<line x1="613.5" y1="955.5" x2="613.5" y2="968.0" stroke="#000" stroke-width="2.16" />
<line x1="622.5" y1="955.5" x2="622.5" y2="968.0" stroke="#000" stroke-width="2.16" />
<rect x="614.3" y="968.0" width="7.4" height="23.0" fill="#fff" stroke="#000" stroke-width="3.0"/>
<rect x="609.5" y="991.0" width="17.0" height="101.0" fill="#fff" stroke="#000" stroke-width="3.0"/>
<rect x="609.5" y="991.0" width="17.0" height="11.0" fill="#fff" stroke="#000" stroke-width="3.0"/>
<rect x="609.5" y="1081.0" width="17.0" height="11.0" fill="#fff" stroke="#000" stroke-width="3.0"/>
<rect x="614.3" y="1092.0" width="7.4" height="21.0" fill="#fff" stroke="#000" stroke-width="3.0"/>
<rect x="608.0" y="1113.0" width="20.0" height="14.0" fill="#fff" stroke="#000" stroke-width="3.0"/>
<rect x="608.0" y="1127.0" width="6.3" height="20.5" fill="#fff" stroke="#000" stroke-width="3.0"/>
<rect x="621.7" y="1127.0" width="6.3" height="20.5" fill="#fff" stroke="#000" stroke-width="3.0"/>
<rect x="595.5" y="959.0" width="13.5" height="6.5" fill="#fff" stroke="#000" stroke-width="3.0"/>
<rect x="627.0" y="957.0" width="5.0" height="9.0" fill="none" stroke="#000" stroke-width="2.43"/>
<rect x="597.5" y="1117.0" width="10.5" height="7.0" fill="#fff" stroke="#000" stroke-width="3.0"/>
<rect x="628.0" y="1115.0" width="4.5" height="11.0" fill="none" stroke="#000" stroke-width="2.43"/>
<rect x="652.0" y="940.7" width="122.3" height="129.3" fill="#fff" stroke="#000" stroke-width="3.0"/>
<rect x="761.5" y="775.6" width="11.9" height="292.9" fill="#fff" stroke="#000" stroke-width="3.0"/>
<rect x="666.0" y="715.6" width="95.0" height="337.4" fill="#fff" stroke="#000" stroke-width="3.0"/>
<line x1="666.0" y1="807.6" x2="761.0" y2="807.6" stroke="#000" stroke-width="3.0" />
<circle cx="766.8" cy="779.7" r="3.4" fill="#000"/>
<circle cx="766.8" cy="808.5" r="3.4" fill="#000"/>
<circle cx="766.8" cy="837.0" r="3.4" fill="#000"/>
<circle cx="766.8" cy="865.4" r="3.4" fill="#000"/>
<circle cx="766.8" cy="894.0" r="3.4" fill="#000"/>
<circle cx="766.8" cy="922.0" r="3.4" fill="#000"/>
<circle cx="766.8" cy="940.7" r="3.4" fill="#000"/>
<circle cx="766.8" cy="981.5" r="3.4" fill="#000"/>
<circle cx="766.8" cy="1021.0" r="3.4" fill="#000"/>
<circle cx="659.0" cy="1061.5" r="4.2" fill="#000"/>
<circle cx="713.0" cy="1061.5" r="4.2" fill="#000"/>
<circle cx="766.5" cy="1061.5" r="4.2" fill="#000"/>
<circle cx="659.6" cy="981.5" r="2.6" fill="#000"/>
<circle cx="659.6" cy="1021.0" r="2.6" fill="#000"/>
<rect x="761.5" y="756.6" width="78.4" height="23.1" fill="#fff" stroke="#000" stroke-width="3.0"/>
<rect x="774.3" y="774.0" width="34.0" height="42.0" fill="#fff" stroke="#000" stroke-width="3.0"/>
<line x1="774.3" y1="811.5" x2="808.3" y2="811.5" stroke="#000" stroke-width="2.43" />
<circle cx="791.0" cy="784.8" r="5.4" fill="#000"/>
<circle cx="791" cy="784.8" r="2.1" fill="#fff"/>
<circle cx="791.0" cy="797.9" r="5.4" fill="#000"/>
<circle cx="791" cy="797.9" r="2.1" fill="#fff"/>
<rect x="783.0" y="754.6" width="15.6" height="19.4" fill="#fff" stroke="#000" stroke-width="3.0"/>
<line x1="790.8" y1="754.6" x2="790.8" y2="774.0" stroke="#000" stroke-width="2.16" />
<line x1="783.0" y1="764.0" x2="798.6" y2="764.0" stroke="#000" stroke-width="2.16" />
<rect x="777.6" y="733.7" width="26.4" height="20.9" fill="#fff" stroke="#000" stroke-width="3.0"/>
<line x1="784.0" y1="733.7" x2="784.0" y2="754.6" stroke="#000" stroke-width="2.16" />
<line x1="797.5" y1="733.7" x2="797.5" y2="754.6" stroke="#000" stroke-width="2.16" />
<rect x="781.0" y="725.3" width="19.0" height="8.4" fill="#fff" stroke="#000" stroke-width="3.0"/>
<rect x="719.0" y="1094.6" width="79.6" height="93.4" fill="#fff" stroke="#000" stroke-width="4.05"/>
<path d="M719,1097.4 L714.9,1097.4 L714.9,1131 L719,1131 M719,1152 L714.9,1152 L714.9,1186 L719,1186" fill="none" stroke="#000" stroke-width="3.0"/>
<circle cx="793.0" cy="1141.5" r="5.5" fill="#fff" stroke="#000" stroke-width="4.05"/>
<circle cx="793.0" cy="1141.5" r="1.6" fill="#000"/>
<line x1="344.5" y1="1249.5" x2="823.7" y2="1249.5" stroke="#000" stroke-width="3.0" />
<line x1="345.0" y1="1294.0" x2="823.7" y2="1294.0" stroke="#000" stroke-width="3.0" />
<line x1="346.0" y1="1249.5" x2="346.0" y2="1294.0" stroke="#000" stroke-width="3.0" />
<line x1="822.3" y1="1249.5" x2="822.3" y2="1294.0" stroke="#000" stroke-width="3.0" />
<rect x="349.0" y="1255.0" width="46.3" height="35.0" fill="none" stroke="#000" stroke-width="3.0"/>
<line x1="366.0" y1="1255.0" x2="366.0" y2="1290.0" stroke="#000" stroke-width="3.0" />
<line x1="396.5" y1="1250.0" x2="396.5" y2="1294.0" stroke="#000" stroke-width="4.59" />
<rect x="562.8" y="1255.0" width="43.2" height="35.0" fill="none" stroke="#000" stroke-width="3.0"/>
<line x1="560.0" y1="1250.0" x2="560.0" y2="1294.0" stroke="#000" stroke-width="4.59" />
<line x1="607.8" y1="1250.0" x2="607.8" y2="1294.0" stroke="#000" stroke-width="4.86" />
<rect x="776.5" y="1255.0" width="41.5" height="35.0" fill="none" stroke="#000" stroke-width="3.0"/>
<line x1="805.0" y1="1255.0" x2="805.0" y2="1290.0" stroke="#000" stroke-width="3.0" />
<line x1="774.3" y1="1250.0" x2="774.3" y2="1294.0" stroke="#000" stroke-width="4.59" />
<rect x="862.2" y="746.3" width="116.3" height="15.3" fill="#fff" stroke="#000" stroke-width="3.0"/>
<line x1="862.2" y1="757.4" x2="978.5" y2="757.4" stroke="#000" stroke-width="3.0" />
<path d="M864,762 L959,885.8 L960.4,892 L960.4,1149 L1047,1149" fill="none" stroke="#000" stroke-width="3.0"/>
<path d="M977,762 L1048.3,845.3" fill="none" stroke="#000" stroke-width="3.0"/>
<line x1="1047.0" y1="845.3" x2="1047.0" y2="1149.0" stroke="#000" stroke-width="3.0" />
<line x1="1002.0" y1="793.7" x2="1052.5" y2="856.5" stroke="#000" stroke-width="6.08" />
<rect x="1048.0" y="948.0" width="2.5" height="6.0" fill="#000"/>
<rect x="1048.0" y="972.0" width="2.5" height="6.0" fill="#000"/>
<rect x="1048.0" y="1004.0" width="2.5" height="6.0" fill="#000"/>
<rect x="1048.0" y="1030.0" width="2.5" height="6.0" fill="#000"/>
<rect x="1048.0" y="1059.0" width="2.5" height="6.0" fill="#000"/>
<rect x="1048.0" y="1087.0" width="2.5" height="6.0" fill="#000"/>
<path d="M823.7,872.4 L927,872.4 L927,1230" fill="none" stroke="#000" stroke-width="3.0"/>
<line x1="927.0" y1="872.4" x2="959.0" y2="926.0" stroke="#000" stroke-width="3.0" />
<line x1="959.0" y1="1151.8" x2="927.7" y2="1199.3" stroke="#000" stroke-width="3.0" />
<path d="M823.7,1206 L840.4,1228.6 L927,1228.6" fill="none" stroke="#000" stroke-width="3.0"/>
<line x1="827.8" y1="1157.4" x2="840.4" y2="1227.0" stroke="#000" stroke-width="3.0" />
<path d="M836,1008.5 L836,951.3 L914.4,951.3 L912,957 L850.2,957 L850.2,1008.5" fill="none" stroke="#000" stroke-width="3.0"/>
<rect x="823.7" y="972.3" width="26.5" height="36.2" fill="none" stroke="#000" stroke-width="3.0"/>
<rect x="850.2" y="976.0" width="3.8" height="10.0" fill="none" stroke="#000" stroke-width="2.43"/>
<rect x="850.2" y="995.0" width="3.8" height="10.0" fill="none" stroke="#000" stroke-width="2.43"/>
<line x1="841.5" y1="1008.5" x2="841.5" y2="1100.0" stroke="#000" stroke-width="2.16" />
<line x1="844.6" y1="1008.5" x2="844.6" y2="1100.0" stroke="#000" stroke-width="2.16" />
<rect x="836.0" y="1100.0" width="16.4" height="55.5" fill="none" stroke="#000" stroke-width="3.0"/>
<rect x="823.7" y="1119.8" width="28.7" height="35.7" fill="none" stroke="#000" stroke-width="3.0"/>
<line x1="852.4" y1="1120.3" x2="914.4" y2="1120.3" stroke="#000" stroke-width="5.94" />
<circle cx="912.0" cy="1118.0" r="3.0" fill="#000"/>
<line x1="852.4" y1="1124.0" x2="927.0" y2="1124.0" stroke="#000" stroke-width="2.43" />
<rect x="852.4" y="1128.0" width="3.6" height="9.0" fill="none" stroke="#000" stroke-width="2.16"/>
<rect x="852.4" y="1143.0" width="3.6" height="9.0" fill="none" stroke="#000" stroke-width="2.16"/>
<rect x="823.5" y="790.0" width="2.8" height="10.0" fill="#000"/>
<rect x="823.5" y="865.0" width="2.8" height="10.0" fill="#000"/>
<rect x="823.5" y="930.0" width="2.8" height="10.0" fill="#000"/>
<rect x="823.5" y="995.0" width="2.8" height="10.0" fill="#000"/>
<rect x="823.5" y="1075.0" width="2.8" height="10.0" fill="#000"/>
<rect x="823.5" y="1145.0" width="2.8" height="10.0" fill="#000"/>
<rect x="823.5" y="1235.0" width="2.8" height="10.0" fill="#000"/>
</g>
<g id="right">
<circle cx="1569.0" cy="1038.5" r="163.2" fill="none" stroke="#000" stroke-width="3.0"/>
<circle cx="1569.0" cy="1038.5" r="107.4" fill="none" stroke="#000" stroke-width="3.0"/>
<path d="M1676.2,919.4 A160.2,160.2 0 0 1 1660.9,1169.7" fill="none" stroke="#000" stroke-width="2.16"/>
<clipPath id="gl"><path d="M1200.0,700.0 h186.0 v186.0 h-186.0 Z M1374.0,790 A74.0,74.0 0 1 0 1226.0,790 A74.0,74.0 0 1 0 1374.0,790 Z" clip-rule="evenodd"/></clipPath>
<g clip-path="url(#gl)">
<circle cx="1293.0" cy="793.0" r="89.8" fill="url(#hatchL)" stroke="#000" stroke-width="4"/>
</g>
<path d="M1482.0,777.5 L1325.3,720.5 A74.0,74.0 0 0 0 1232.1,819.4 L1334.0,1055.0 L1334.0,928 Z" fill="#fff" stroke="none"/>
<path d="M1482.0,777.5 L1325.3,720.5 A74.0,74.0 0 0 0 1232.1,819.4 L1334.0,1055.0" fill="none" stroke="#000" stroke-width="3"/>
<path d="M1174.6,742.9 L1251.0,672.9 L1273.1,698.7 L1198.5,767.7 Z" fill="#fff" stroke="#000" stroke-width="4.32" stroke-linejoin="miter"/>
<line x1="1201.3" y1="759.4" x2="1251.0" y2="673.8" stroke="#000" stroke-width="4.59" />
<line x1="1186.0" y1="731.5" x2="1209.0" y2="757.0" stroke="#000" stroke-width="3.0" />
<line x1="1237.0" y1="686.0" x2="1259.5" y2="711.5" stroke="#000" stroke-width="3.0" />
<circle cx="1269.4" cy="680.3" r="9.0" fill="#000"/>
<circle cx="1267.0" cy="676.5" r="2" fill="#fff"/>
<circle cx="1272.5" cy="684" r="2" fill="#fff"/>
<line x1="1206.8" y1="763.0" x2="1226.0" y2="782.0" stroke="#000" stroke-width="3.0" />
<line x1="1213.0" y1="757.0" x2="1232.0" y2="775.0" stroke="#000" stroke-width="3.0" />
<line x1="1262.0" y1="708.0" x2="1270.0" y2="722.0" stroke="#000" stroke-width="3.0" />
<line x1="1268.0" y1="704.0" x2="1276.0" y2="718.0" stroke="#000" stroke-width="3.0" />
<clipPath id="gr"><path d="M1752.4,700.0 h186.0 v186.0 h-186.0 Z M1912.4,790 A74.0,74.0 0 1 0 1764.4,790 A74.0,74.0 0 1 0 1912.4,790 Z" clip-rule="evenodd"/></clipPath>
<g clip-path="url(#gr)">
<circle cx="1845.4" cy="793.0" r="89.8" fill="url(#hatchR)" stroke="#000" stroke-width="4"/>
</g>
<path d="M1656.4,777.5 L1813.1,720.5 A74.0,74.0 0 0 1 1906.3,819.4 L1804.4,1055.0 L1804.4,928 Z" fill="#fff" stroke="none"/>
<path d="M1656.4,777.5 L1813.1,720.5 A74.0,74.0 0 0 1 1906.3,819.4 L1804.4,1055.0" fill="none" stroke="#000" stroke-width="3"/>
<path d="M1963.8,742.9 L1887.4,672.9 L1865.3,698.7 L1939.9,767.7 Z" fill="#fff" stroke="#000" stroke-width="4.32" stroke-linejoin="miter"/>
<line x1="1937.1" y1="759.4" x2="1887.4" y2="673.8" stroke="#000" stroke-width="4.59" />
<line x1="1952.4" y1="731.5" x2="1929.4" y2="757.0" stroke="#000" stroke-width="3.0" />
<line x1="1901.4" y1="686.0" x2="1878.9" y2="711.5" stroke="#000" stroke-width="3.0" />
<circle cx="1869.0" cy="680.3" r="9.0" fill="#000"/>
<circle cx="1871.4" cy="676.5" r="2" fill="#fff"/>
<circle cx="1865.9" cy="684" r="2" fill="#fff"/>
<line x1="1931.6" y1="763.0" x2="1912.4" y2="782.0" stroke="#000" stroke-width="3.0" />
<line x1="1925.4" y1="757.0" x2="1906.4" y2="775.0" stroke="#000" stroke-width="3.0" />
<line x1="1876.4" y1="708.0" x2="1868.4" y2="722.0" stroke="#000" stroke-width="3.0" />
<line x1="1870.4" y1="704.0" x2="1862.4" y2="718.0" stroke="#000" stroke-width="3.0" />
<g transform="translate(1315.5,875) rotate(-46) scale(0.48) translate(-460.7,-1710.8)" fill="#fff" stroke="#000" stroke-width="4.6" stroke-linejoin="round" filter="url(#gray)"><use href="#gear"/><use href="#sm"/><use href="#ltxt2"/></g>
<g transform="translate(1745.3,794) rotate(46) scale(0.48) translate(-460.7,-1710.8)" fill="#fff" stroke="#000" stroke-width="4.6" stroke-linejoin="round" filter="url(#gray)"><use href="#gear"/><use href="#sm"/><use href="#ltxt2"/></g>
<g transform="translate(1291.5,774.2) rotate(-32) scale(0.5) translate(-304,-1706)" fill="#fff" stroke="#000" stroke-width="4" stroke-linejoin="round"><use href="#tread"/></g>
<g transform="translate(1845.8,772.8) rotate(32) scale(-0.5,0.5) translate(-304,-1706)" fill="#fff" stroke="#000" stroke-width="4" stroke-linejoin="round"><use href="#tread"/></g>
<path d="M1332.8,1248.0 L1332.8,927.6 L1483.4,777.0 L1655.0,777.0 L1805.6,927.6 L1805.6,1248.0" fill="none" stroke="#000" stroke-width="5.4" stroke-linejoin="miter"/>
<path d="M1339.7,1248.0 L1339.7,931.0 L1486.0,783.5 L1652.4,783.5 L1798.7,931.0 L1798.7,1248.0" fill="none" stroke="#000" stroke-width="2.43" stroke-linejoin="miter"/>
<circle cx="1490.4" cy="790.9" r="3.8" fill="#000"/>
<circle cx="1418.7" cy="863.4" r="3.8" fill="#000"/>
<circle cx="1346.7" cy="934.6" r="3.8" fill="#000"/>
<circle cx="1346.7" cy="1011.9" r="3.8" fill="#000"/>
<circle cx="1346.7" cy="1087.5" r="3.8" fill="#000"/>
<circle cx="1346.7" cy="1163.0" r="3.8" fill="#000"/>
<circle cx="1346.7" cy="1239.7" r="3.8" fill="#000"/>
<circle cx="1482.9" cy="886.6" r="2.8" fill="#000"/>
<circle cx="1447.2" cy="913.7" r="2.8" fill="#000"/>
<circle cx="1420.0" cy="949.0" r="2.8" fill="#000"/>
<circle cx="1420.0" cy="1128.0" r="2.8" fill="#000"/>
<circle cx="1446.0" cy="1158.0" r="2.8" fill="#000"/>
<line x1="1344.9" y1="915.5" x2="1356.9" y2="903.5" stroke="#000" stroke-width="6.75" />
<line x1="1384.0" y1="876.4" x2="1396.0" y2="864.4" stroke="#000" stroke-width="6.75" />
<line x1="1420.2" y1="840.2" x2="1432.2" y2="828.2" stroke="#000" stroke-width="6.75" />
<line x1="1459.3" y1="801.1" x2="1471.3" y2="789.1" stroke="#000" stroke-width="6.75" />
<rect x="1329.5" y="954.0" width="3.3" height="12.0" fill="#000"/>
<rect x="1329.5" y="1034.0" width="3.3" height="12.0" fill="#000"/>
<rect x="1329.5" y="1104.0" width="3.3" height="12.0" fill="#000"/>
<rect x="1329.5" y="1174.0" width="3.3" height="12.0" fill="#000"/>
<circle cx="1648.0" cy="790.9" r="3.8" fill="#000"/>
<circle cx="1719.7" cy="863.4" r="3.8" fill="#000"/>
<circle cx="1791.7" cy="934.6" r="3.8" fill="#000"/>
<circle cx="1791.7" cy="1011.9" r="3.8" fill="#000"/>
<circle cx="1791.7" cy="1087.5" r="3.8" fill="#000"/>
<circle cx="1791.7" cy="1163.0" r="3.8" fill="#000"/>
<circle cx="1791.7" cy="1239.7" r="3.8" fill="#000"/>
<circle cx="1655.5" cy="886.6" r="2.8" fill="#000"/>
<circle cx="1691.2" cy="913.7" r="2.8" fill="#000"/>
<circle cx="1718.4" cy="949.0" r="2.8" fill="#000"/>
<circle cx="1718.4" cy="1128.0" r="2.8" fill="#000"/>
<circle cx="1692.4" cy="1158.0" r="2.8" fill="#000"/>
<line x1="1793.5" y1="915.5" x2="1781.5" y2="903.5" stroke="#000" stroke-width="6.75" />
<line x1="1754.4" y1="876.4" x2="1742.4" y2="864.4" stroke="#000" stroke-width="6.75" />
<line x1="1718.2" y1="840.2" x2="1706.2" y2="828.2" stroke="#000" stroke-width="6.75" />
<line x1="1679.1" y1="801.1" x2="1667.1" y2="789.1" stroke="#000" stroke-width="6.75" />
<rect x="1805.6" y="954.0" width="3.3" height="12.0" fill="#000"/>
<rect x="1805.6" y="1034.0" width="3.3" height="12.0" fill="#000"/>
<rect x="1805.6" y="1104.0" width="3.3" height="12.0" fill="#000"/>
<rect x="1805.6" y="1174.0" width="3.3" height="12.0" fill="#000"/>
<rect x="1330.0" y="1248.0" width="478.4" height="5.7" fill="#fff" stroke="#000" stroke-width="3.0"/>
<path d="M1324.4,1253.7 L1308.5,1280.2 L1308.5,1295.0 L1829.9,1295.0 L1829.9,1280.2 L1814.0,1253.7 Z" fill="none" stroke="#000" stroke-width="3.0" stroke-linejoin="miter"/>
<line x1="1334.2" y1="1253.7" x2="1334.2" y2="1295.0" stroke="#000" stroke-width="3.0" />
<line x1="1804.2" y1="1253.7" x2="1804.2" y2="1295.0" stroke="#000" stroke-width="3.0" />
<path d="M1424.8,1117 L1494.6,1228.6 L1643.8,1228.6 L1713.6,1117" fill="none" stroke="#000" stroke-width="3.0"/>
<rect x="1356.5" y="952.7" width="16.7" height="55.8" fill="#fff" stroke="#000" stroke-width="3.0"/>
<line x1="1356.5" y1="972.0" x2="1373.2" y2="972.0" stroke="#000" stroke-width="2.16" />
<line x1="1356.5" y1="990.5" x2="1373.2" y2="990.5" stroke="#000" stroke-width="2.16" />
<path d="M1373.2,953 L1424.5,953 M1373.2,958 L1421,958" fill="none" stroke="#000" stroke-width="2.43"/>
<path d="M1373.2,972.3 L1381.6,972.3 L1381.6,1036.4 L1371.8,1036.4 L1371.8,1116" fill="none" stroke="#000" stroke-width="3.0"/>
<rect x="1356.5" y="1100.2" width="16.7" height="55.8" fill="#fff" stroke="#000" stroke-width="3.0"/>
<line x1="1356.5" y1="1119.0" x2="1373.2" y2="1119.0" stroke="#000" stroke-width="2.16" />
<line x1="1356.5" y1="1137.0" x2="1373.2" y2="1137.0" stroke="#000" stroke-width="2.16" />
<circle cx="1364.8" cy="980.6" r="3.6" fill="#fff" stroke="#000" stroke-width="3.0"/>
<circle cx="1364.8" cy="1000.2" r="3.6" fill="#fff" stroke="#000" stroke-width="3.0"/>
<circle cx="1364.8" cy="1126.7" r="3.6" fill="#fff" stroke="#000" stroke-width="3.0"/>
<circle cx="1364.8" cy="1147.7" r="3.6" fill="#fff" stroke="#000" stroke-width="3.0"/>
<line x1="1373.2" y1="1118.4" x2="1424.8" y2="1118.4" stroke="#000" stroke-width="5.4" />
<line x1="1373.2" y1="1113.5" x2="1421.0" y2="1113.5" stroke="#000" stroke-width="2.16" />
<g transform="translate(1752,962) rotate(5)">
<rect x="-14.0" y="-4.0" width="20.0" height="8.0" fill="#fff" stroke="#000" stroke-width="3.0"/>
<rect x="-4.0" y="-7.0" width="10.0" height="14.0" fill="#fff" stroke="#000" stroke-width="3.0"/>
<line x1="6.0" y1="0.0" x2="38.0" y2="0.0" stroke="#000" stroke-width="4.32" />
<circle cx="42.0" cy="0.0" r="4.6" fill="#fff" stroke="#000" stroke-width="3.0"/>
</g>
<g transform="translate(1733,972) rotate(78)">
<rect x="-14.0" y="-4.0" width="20.0" height="8.0" fill="#fff" stroke="#000" stroke-width="3.0"/>
<rect x="-4.0" y="-7.0" width="10.0" height="14.0" fill="#fff" stroke="#000" stroke-width="3.0"/>
<line x1="6.0" y1="0.0" x2="38.0" y2="0.0" stroke="#000" stroke-width="4.32" />
<circle cx="42.0" cy="0.0" r="4.6" fill="#fff" stroke="#000" stroke-width="3.0"/>
</g>
<g transform="translate(1736,1100) rotate(100)">
<rect x="-14.0" y="-4.0" width="20.0" height="8.0" fill="#fff" stroke="#000" stroke-width="3.0"/>
<rect x="-4.0" y="-7.0" width="10.0" height="14.0" fill="#fff" stroke="#000" stroke-width="3.0"/>
<line x1="6.0" y1="0.0" x2="38.0" y2="0.0" stroke="#000" stroke-width="4.32" />
<circle cx="42.0" cy="0.0" r="4.6" fill="#fff" stroke="#000" stroke-width="3.0"/>
</g>
<g transform="translate(1753,1108) rotate(88)">
<rect x="-14.0" y="-4.0" width="20.0" height="8.0" fill="#fff" stroke="#000" stroke-width="3.0"/>
<rect x="-4.0" y="-7.0" width="10.0" height="14.0" fill="#fff" stroke="#000" stroke-width="3.0"/>
<line x1="6.0" y1="0.0" x2="38.0" y2="0.0" stroke="#000" stroke-width="4.32" />
<circle cx="42.0" cy="0.0" r="4.6" fill="#fff" stroke="#000" stroke-width="3.0"/>
</g>
<circle cx="1719.0" cy="950.0" r="2.2" fill="#000"/>
<circle cx="1742.0" cy="1036.0" r="2.2" fill="#000"/>
<circle cx="1737.0" cy="1080.0" r="2.2" fill="#000"/>
<circle cx="1718.0" cy="1121.0" r="2.2" fill="#000"/>
<path d="M1270.0,944.0 L1280.0,937.0 L1286.0,945.0 L1276.0,952.0 Z" fill="#fff" stroke="#000" stroke-width="3.0" stroke-linejoin="miter"/>
<circle cx="1275.6" cy="961.0" r="8.6" fill="#fff" stroke="#000" stroke-width="3.0"/>
<circle cx="1275.6" cy="961.0" r="3.4" fill="none" stroke="#000" stroke-width="3.0"/>
<line x1="1274.5" y1="970.0" x2="1281.5" y2="995.0" stroke="#000" stroke-width="3.0" />
<line x1="1280.5" y1="968.0" x2="1288.0" y2="993.0" stroke="#000" stroke-width="3.0" />
<path d="M1277.0,998.0 L1295.0,992.0 L1324.0,1082.0 L1306.0,1088.0 Z" fill="#fff" stroke="#000" stroke-width="3.0" stroke-linejoin="miter"/>
<line x1="1280.0" y1="1007.0" x2="1298.0" y2="1001.0" stroke="#000" stroke-width="2.43" />
<line x1="1303.0" y1="1078.0" x2="1321.0" y2="1072.0" stroke="#000" stroke-width="2.43" />
<path d="M1310.0,1089.0 L1320.0,1086.0 L1327.0,1108.0 L1317.0,1111.0 Z" fill="#fff" stroke="#000" stroke-width="3.0" stroke-linejoin="miter"/>
<path d="M1316.0,1110.0 L1330.0,1110.0 L1330.0,1140.0 L1322.0,1146.0 L1316.0,1134.0 Z" fill="#fff" stroke="#000" stroke-width="3.0" stroke-linejoin="miter"/>
<circle cx="1324.4" cy="1121.5" r="3.6" fill="none" stroke="#000" stroke-width="3.0"/>
<rect x="1323.0" y="1132.0" width="7.0" height="18.0" fill="#000"/>
<rect x="1329.0" y="1093.0" width="4.0" height="96.0" fill="none" stroke="#000" stroke-width="2.16"/>
<path d="M1868.4,944.0 L1858.4,937.0 L1852.4,945.0 L1862.4,952.0 Z" fill="#fff" stroke="#000" stroke-width="3.0" stroke-linejoin="miter"/>
<circle cx="1862.8" cy="961.0" r="8.6" fill="#fff" stroke="#000" stroke-width="3.0"/>
<circle cx="1862.8" cy="961.0" r="3.4" fill="none" stroke="#000" stroke-width="3.0"/>
<line x1="1863.9" y1="970.0" x2="1856.9" y2="995.0" stroke="#000" stroke-width="3.0" />
<line x1="1857.9" y1="968.0" x2="1850.4" y2="993.0" stroke="#000" stroke-width="3.0" />
<path d="M1861.4,998.0 L1843.4,992.0 L1814.4,1082.0 L1832.4,1088.0 Z" fill="#fff" stroke="#000" stroke-width="3.0" stroke-linejoin="miter"/>
<line x1="1858.4" y1="1007.0" x2="1840.4" y2="1001.0" stroke="#000" stroke-width="2.43" />
<line x1="1835.4" y1="1078.0" x2="1817.4" y2="1072.0" stroke="#000" stroke-width="2.43" />
<path d="M1828.4,1089.0 L1818.4,1086.0 L1811.4,1108.0 L1821.4,1111.0 Z" fill="#fff" stroke="#000" stroke-width="3.0" stroke-linejoin="miter"/>
<path d="M1822.4,1110.0 L1808.4,1110.0 L1808.4,1140.0 L1816.4,1146.0 L1822.4,1134.0 Z" fill="#fff" stroke="#000" stroke-width="3.0" stroke-linejoin="miter"/>
<circle cx="1814.0" cy="1121.5" r="3.6" fill="none" stroke="#000" stroke-width="3.0"/>
<rect x="1808.4" y="1132.0" width="7.0" height="18.0" fill="#000"/>
<rect x="1805.4" y="1093.0" width="4.0" height="96.0" fill="none" stroke="#000" stroke-width="2.16"/>
<rect x="1501.5" y="191.0" width="6.5" height="135.3" fill="#000"/>
<rect x="1623.7" y="191.0" width="7.8" height="135.3" fill="#000"/>
<rect x="1499.3" y="197.0" width="2.2" height="6.0" fill="#000"/>
<rect x="1499.3" y="212.0" width="2.2" height="6.0" fill="#000"/>
<rect x="1499.3" y="232.0" width="2.2" height="6.0" fill="#000"/>
<rect x="1499.3" y="252.0" width="2.2" height="6.0" fill="#000"/>
<rect x="1499.3" y="272.0" width="2.2" height="6.0" fill="#000"/>
<rect x="1499.3" y="292.0" width="2.2" height="6.0" fill="#000"/>
<rect x="1499.3" y="309.0" width="2.2" height="6.0" fill="#000"/>
<line x1="1501.5" y1="191.8" x2="1631.5" y2="191.8" stroke="#000" stroke-width="3.0" />
<path d="M1509.3,191 L1509.3,251 A57.2,57.2 0 0 0 1623.7,251 L1623.7,191" fill="none" stroke="#000" stroke-width="3.0"/>
<circle cx="1514.8" cy="200.7" r="3.7" fill="#000"/>
<circle cx="1514.8" cy="222.2" r="3.7" fill="#000"/>
<circle cx="1514.8" cy="251.5" r="3.7" fill="#000"/>
<circle cx="1617.5" cy="200.7" r="3.7" fill="#000"/>
<circle cx="1617.5" cy="222.2" r="3.7" fill="#000"/>
<circle cx="1617.5" cy="251.5" r="3.7" fill="#000"/>
<circle cx="1530.2" cy="287.2" r="3.7" fill="#000"/>
<circle cx="1602.7" cy="287.2" r="3.7" fill="#000"/>
<circle cx="1566.5" cy="301.7" r="3.7" fill="#000"/>
<line x1="1517.6" y1="285.8" x2="1514.8" y2="326.3" stroke="#000" stroke-width="3.0" />
<line x1="1616.7" y1="285.8" x2="1623.7" y2="326.3" stroke="#000" stroke-width="3.0" />
<line x1="1508.0" y1="324.5" x2="1515.0" y2="324.5" stroke="#000" stroke-width="3.0" />
<rect x="1542.7" y="227.9" width="47.6" height="47.6" fill="#fff" stroke="#000" stroke-width="4.05" rx="4"/>
<rect x="1545.9" y="231.1" width="41.2" height="41.2" fill="none" stroke="#000" stroke-width="1.76"/>
<line x1="1545.7" y1="239.9" x2="1552.5" y2="240.5" stroke="#000" stroke-width="2.16" />
<line x1="1554.7" y1="230.9" x2="1555.3" y2="237.7" stroke="#000" stroke-width="2.16" />
<circle cx="1551.2" cy="236.4" r="3.0" fill="#fff" stroke="#000" stroke-width="2.43"/>
<line x1="1545.7" y1="263.5" x2="1552.5" y2="262.9" stroke="#000" stroke-width="2.16" />
<line x1="1554.7" y1="272.5" x2="1555.3" y2="265.7" stroke="#000" stroke-width="2.16" />
<circle cx="1551.2" cy="267.0" r="3.0" fill="#fff" stroke="#000" stroke-width="2.43"/>
<line x1="1587.3" y1="239.9" x2="1580.5" y2="240.5" stroke="#000" stroke-width="2.16" />
<line x1="1578.3" y1="230.9" x2="1577.7" y2="237.7" stroke="#000" stroke-width="2.16" />
<circle cx="1581.8" cy="236.4" r="3.0" fill="#fff" stroke="#000" stroke-width="2.43"/>
<line x1="1587.3" y1="263.5" x2="1580.5" y2="262.9" stroke="#000" stroke-width="2.16" />
<line x1="1578.3" y1="272.5" x2="1577.7" y2="265.7" stroke="#000" stroke-width="2.16" />
<circle cx="1581.8" cy="267.0" r="3.0" fill="#fff" stroke="#000" stroke-width="2.43"/>
<circle cx="1566.5" cy="251.7" r="18.0" fill="#000"/>
<circle cx="1566.5" cy="251.7" r="5.6" fill="#fff"/>
<line x1="1503.5" y1="332.7" x2="1635.5" y2="332.7" stroke="#000" stroke-width="6.75" />
<circle cx="1507.0" cy="333.0" r="4.2" fill="#000"/>
<circle cx="1632.0" cy="333.0" r="4.2" fill="#000"/>
<circle cx="1542.3" cy="338.0" r="3.2" fill="#000"/>
<rect x="1540.3" y="326.5" width="4.0" height="4.5" fill="#000"/>
<circle cx="1569.3" cy="338.0" r="3.2" fill="#000"/>
<rect x="1567.3" y="326.5" width="4.0" height="4.5" fill="#000"/>
<circle cx="1597.5" cy="338.0" r="3.2" fill="#000"/>
<rect x="1595.5" y="326.5" width="4.0" height="4.5" fill="#000"/>
<path d="M1516.5,337.4 L1486.7,388.8 A96.2,96.2 0 0 0 1487.5,486.5 L1514.8,532.0" fill="none" stroke="#000" stroke-width="3.0"/>
<path d="M1623.5,337.4 L1653.3,388.8 A96.2,96.2 0 0 1 1652.5,486.5 L1625.2,532.0" fill="none" stroke="#000" stroke-width="3.0"/>
<circle cx="1570.0" cy="437.0" r="90.5" fill="#fff" stroke="#000" stroke-width="3.0"/>
<circle cx="1653.3" cy="459.3" r="3.6" fill="#000"/>
<circle cx="1631.0" cy="498.0" r="3.6" fill="#000"/>
<circle cx="1592.3" cy="520.3" r="3.6" fill="#000"/>
<circle cx="1547.7" cy="520.3" r="3.6" fill="#000"/>
<circle cx="1509.0" cy="498.0" r="3.6" fill="#000"/>
<circle cx="1486.7" cy="459.3" r="3.6" fill="#000"/>
<circle cx="1486.7" cy="414.7" r="3.6" fill="#000"/>
<circle cx="1509.0" cy="376.0" r="3.6" fill="#000"/>
<circle cx="1547.7" cy="353.7" r="3.6" fill="#000"/>
<circle cx="1592.3" cy="353.7" r="3.6" fill="#000"/>
<circle cx="1631.0" cy="376.0" r="3.6" fill="#000"/>
<circle cx="1653.3" cy="414.7" r="3.6" fill="#000"/>
<rect x="1535.3" y="402.3" width="69.4" height="69.4" fill="#fff" stroke="#000" stroke-width="4.32" rx="6"/>
<rect x="1538.5" y="405.5" width="63.0" height="63.0" fill="none" stroke="#000" stroke-width="1.76"/>
<line x1="1538.3" y1="414.3" x2="1548.9" y2="420.3" stroke="#000" stroke-width="2.16" />
<line x1="1547.3" y1="405.3" x2="1553.3" y2="415.9" stroke="#000" stroke-width="2.16" />
<circle cx="1543.8" cy="410.8" r="3.0" fill="#fff" stroke="#000" stroke-width="2.43"/>
<line x1="1538.3" y1="459.7" x2="1548.9" y2="453.7" stroke="#000" stroke-width="2.16" />
<line x1="1547.3" y1="468.7" x2="1553.3" y2="458.1" stroke="#000" stroke-width="2.16" />
<circle cx="1543.8" cy="463.2" r="3.0" fill="#fff" stroke="#000" stroke-width="2.43"/>
<line x1="1601.7" y1="414.3" x2="1591.1" y2="420.3" stroke="#000" stroke-width="2.16" />
<line x1="1592.7" y1="405.3" x2="1586.7" y2="415.9" stroke="#000" stroke-width="2.16" />
<circle cx="1596.2" cy="410.8" r="3.0" fill="#fff" stroke="#000" stroke-width="2.43"/>
<line x1="1601.7" y1="459.7" x2="1591.1" y2="453.7" stroke="#000" stroke-width="2.16" />
<line x1="1592.7" y1="468.7" x2="1586.7" y2="458.1" stroke="#000" stroke-width="2.16" />
<circle cx="1596.2" cy="463.2" r="3.0" fill="#fff" stroke="#000" stroke-width="2.43"/>
<circle cx="1570.0" cy="437.0" r="27.0" fill="#000"/>
<circle cx="1570.0" cy="437.0" r="10.4" fill="#fff"/>
<path d="M1514.8,550.0 L1487.8,594.3 A96.2,96.2 0 0 0 1484.1,687.6 L1513.0,745.0" fill="none" stroke="#000" stroke-width="3.0"/>
<path d="M1625.2,550.0 L1652.2,594.3 A96.2,96.2 0 0 1 1655.9,687.6 L1627.0,745.0" fill="none" stroke="#000" stroke-width="3.0"/>
<circle cx="1570.0" cy="644.3" r="90.5" fill="#fff" stroke="#000" stroke-width="3.0"/>
<circle cx="1653.3" cy="666.6" r="3.6" fill="#000"/>
<circle cx="1631.0" cy="705.3" r="3.6" fill="#000"/>
<circle cx="1592.3" cy="727.6" r="3.6" fill="#000"/>
<circle cx="1547.7" cy="727.6" r="3.6" fill="#000"/>
<circle cx="1509.0" cy="705.3" r="3.6" fill="#000"/>
<circle cx="1486.7" cy="666.6" r="3.6" fill="#000"/>
<circle cx="1486.7" cy="622.0" r="3.6" fill="#000"/>
<circle cx="1509.0" cy="583.3" r="3.6" fill="#000"/>
<circle cx="1547.7" cy="561.0" r="3.6" fill="#000"/>
<circle cx="1592.3" cy="561.0" r="3.6" fill="#000"/>
<circle cx="1631.0" cy="583.3" r="3.6" fill="#000"/>
<circle cx="1653.3" cy="622.0" r="3.6" fill="#000"/>
<rect x="1535.3" y="609.6" width="69.4" height="69.4" fill="#fff" stroke="#000" stroke-width="4.32" rx="6"/>
<rect x="1538.5" y="612.8" width="63.0" height="63.0" fill="none" stroke="#000" stroke-width="1.76"/>
<line x1="1538.3" y1="621.6" x2="1548.9" y2="627.6" stroke="#000" stroke-width="2.16" />
<line x1="1547.3" y1="612.6" x2="1553.3" y2="623.2" stroke="#000" stroke-width="2.16" />
<circle cx="1543.8" cy="618.1" r="3.0" fill="#fff" stroke="#000" stroke-width="2.43"/>
<line x1="1538.3" y1="667.0" x2="1548.9" y2="661.0" stroke="#000" stroke-width="2.16" />
<line x1="1547.3" y1="676.0" x2="1553.3" y2="665.4" stroke="#000" stroke-width="2.16" />
<circle cx="1543.8" cy="670.5" r="3.0" fill="#fff" stroke="#000" stroke-width="2.43"/>
<line x1="1601.7" y1="621.6" x2="1591.1" y2="627.6" stroke="#000" stroke-width="2.16" />
<line x1="1592.7" y1="612.6" x2="1586.7" y2="623.2" stroke="#000" stroke-width="2.16" />
<circle cx="1596.2" cy="618.1" r="3.0" fill="#fff" stroke="#000" stroke-width="2.43"/>
<line x1="1601.7" y1="667.0" x2="1591.1" y2="661.0" stroke="#000" stroke-width="2.16" />
<line x1="1592.7" y1="676.0" x2="1586.7" y2="665.4" stroke="#000" stroke-width="2.16" />
<circle cx="1596.2" cy="670.5" r="3.0" fill="#fff" stroke="#000" stroke-width="2.43"/>
<circle cx="1570.0" cy="644.3" r="27.0" fill="#000"/>
<circle cx="1570.0" cy="644.3" r="10.4" fill="#fff"/>
<line x1="1515.3" y1="529.5" x2="1515.3" y2="552.0" stroke="#000" stroke-width="3.0" />
<line x1="1624.7" y1="529.5" x2="1624.7" y2="552.0" stroke="#000" stroke-width="3.0" />
<path d="M1524.4,531.4 L1615.4,531.4 L1618.4,536.0 L1618.4,545.0 L1615.4,549.8 L1524.4,549.8 L1521.4,545.0 L1521.4,536.0 Z" fill="#fff" stroke="#000" stroke-width="3.0" stroke-linejoin="miter"/>
<rect x="1539.8" y="532.0" width="6.8" height="17.0" fill="#000"/>
<rect x="1593.8" y="532.0" width="6.8" height="17.0" fill="#000"/>
<line x1="1514.8" y1="540.5" x2="1521.4" y2="540.5" stroke="#000" stroke-width="3.0" />
<line x1="1618.4" y1="540.5" x2="1625.2" y2="540.5" stroke="#000" stroke-width="3.0" />
<rect x="1389.2" y="414.0" width="53.2" height="22.5" fill="#000"/>
<rect x="1394.7" y="420.0" width="42.7" height="13.6" fill="#fff"/>
<path d="M1400.0,414 Q1416.0,410.5 1432.0,414" fill="none" stroke="#000" stroke-width="3.0"/>
<rect x="1374.6" y="418.6" width="14.6" height="16.1" fill="#000"/>
<rect x="1380.5" y="421.5" width="3.5" height="4.5" fill="#fff"/>
<rect x="1380.5" y="428.0" width="3.5" height="4.5" fill="#fff"/>
<path d="M1375.1,433.1 L1456.5,432.6 L1469.5,486.4 L1469.5,519.5 L1362.6,519.5 L1362.6,486.4 Z" fill="#fff" stroke="#000" stroke-width="3.0" stroke-linejoin="miter"/>
<line x1="1375.1" y1="444.0" x2="1389.0" y2="435.5" stroke="#000" stroke-width="3.0" />
<line x1="1377.0" y1="452.0" x2="1392.0" y2="441.0" stroke="#000" stroke-width="3.0" />
<line x1="1456.5" y1="444.0" x2="1443.0" y2="435.5" stroke="#000" stroke-width="3.0" />
<line x1="1455.0" y1="452.0" x2="1440.0" y2="441.0" stroke="#000" stroke-width="3.0" />
<line x1="1389.2" y1="436.3" x2="1442.4" y2="436.3" stroke="#000" stroke-width="6.75" />
<circle cx="1416.3" cy="477.3" r="42.0" fill="#fff" stroke="#000" stroke-width="4.4"/>
<circle cx="1416.3" cy="477.3" r="32.1" fill="#000"/>
<line x1="1426.0" y1="479.9" x2="1438.3" y2="491.2" stroke="#fff" stroke-width="0.8" stroke-dasharray="3 4"/>
<line x1="1418.9" y1="487.0" x2="1415.3" y2="503.3" stroke="#fff" stroke-width="0.8" stroke-dasharray="3 4"/>
<line x1="1409.2" y1="484.4" x2="1393.3" y2="489.4" stroke="#fff" stroke-width="0.8" stroke-dasharray="3 4"/>
<line x1="1406.6" y1="474.7" x2="1394.3" y2="463.4" stroke="#fff" stroke-width="0.8" stroke-dasharray="3 4"/>
<line x1="1413.7" y1="467.6" x2="1417.3" y2="451.3" stroke="#fff" stroke-width="0.8" stroke-dasharray="3 4"/>
<line x1="1423.4" y1="470.2" x2="1439.3" y2="465.2" stroke="#fff" stroke-width="0.8" stroke-dasharray="3 4"/>
<circle cx="1416.3" cy="477.3" r="6" fill="#fff"/>
<circle cx="1416.3" cy="477.3" r="2.6" fill="none" stroke="#000" stroke-width="1.62"/>
<line x1="1364.0" y1="519.5" x2="1468.5" y2="519.5" stroke="#000" stroke-width="5.94" />
<rect x="1364.6" y="522.5" width="102.4" height="11.1" fill="#fff" stroke="#000" stroke-width="3.0"/>
<rect x="1389.2" y="522.5" width="5.0" height="11.1" fill="#000"/>
<rect x="1403.7" y="522.5" width="3.6" height="11.1" fill="#000"/>
<rect x="1416.8" y="522.5" width="12.5" height="11.1" fill="#000"/>
<rect x="1437.9" y="522.5" width="5.0" height="11.1" fill="#000"/>
<line x1="1364.0" y1="536.4" x2="1516.7" y2="536.4" stroke="#000" stroke-width="5.67" />
<line x1="1364.7" y1="539.0" x2="1483.0" y2="679.0" stroke="#000" stroke-width="3.0" />
<line x1="1383.0" y1="558.0" x2="1507.0" y2="558.0" stroke="#000" stroke-width="3.0" />
<line x1="1498.6" y1="539.0" x2="1508.4" y2="556.8" stroke="#000" stroke-width="3.0" />
<circle cx="1386.7" cy="547.6" r="4.2" fill="#000"/>
<circle cx="1439.9" cy="547.6" r="4.2" fill="#000"/>
<circle cx="1492.6" cy="547.6" r="4.2" fill="#000"/>
<rect x="1697.6" y="414.0" width="53.2" height="22.5" fill="#000"/>
<rect x="1702.6" y="420.0" width="42.7" height="13.6" fill="#fff"/>
<path d="M1740.0,414 Q1724.0,410.5 1708.0,414" fill="none" stroke="#000" stroke-width="3.0"/>
<rect x="1750.8" y="418.6" width="14.6" height="16.1" fill="#000"/>
<rect x="1756.0" y="421.5" width="3.5" height="4.5" fill="#fff"/>
<rect x="1756.0" y="428.0" width="3.5" height="4.5" fill="#fff"/>
<path d="M1764.9,433.1 L1683.5,432.6 L1670.5,486.4 L1670.5,519.5 L1777.4,519.5 L1777.4,486.4 Z" fill="#fff" stroke="#000" stroke-width="3.0" stroke-linejoin="miter"/>
<line x1="1764.9" y1="444.0" x2="1751.0" y2="435.5" stroke="#000" stroke-width="3.0" />
<line x1="1763.0" y1="452.0" x2="1748.0" y2="441.0" stroke="#000" stroke-width="3.0" />
<line x1="1683.5" y1="444.0" x2="1697.0" y2="435.5" stroke="#000" stroke-width="3.0" />
<line x1="1685.0" y1="452.0" x2="1700.0" y2="441.0" stroke="#000" stroke-width="3.0" />
<line x1="1750.8" y1="436.3" x2="1697.6" y2="436.3" stroke="#000" stroke-width="6.75" />
<circle cx="1723.7" cy="477.3" r="42.0" fill="#fff" stroke="#000" stroke-width="4.4"/>
<circle cx="1723.7" cy="477.3" r="32.1" fill="#000"/>
<line x1="1733.4" y1="479.9" x2="1745.7" y2="491.2" stroke="#fff" stroke-width="0.8" stroke-dasharray="3 4"/>
<line x1="1726.3" y1="487.0" x2="1722.7" y2="503.3" stroke="#fff" stroke-width="0.8" stroke-dasharray="3 4"/>
<line x1="1716.6" y1="484.4" x2="1700.7" y2="489.4" stroke="#fff" stroke-width="0.8" stroke-dasharray="3 4"/>
<line x1="1714.0" y1="474.7" x2="1701.7" y2="463.4" stroke="#fff" stroke-width="0.8" stroke-dasharray="3 4"/>
<line x1="1721.1" y1="467.6" x2="1724.7" y2="451.3" stroke="#fff" stroke-width="0.8" stroke-dasharray="3 4"/>
<line x1="1730.8" y1="470.2" x2="1746.7" y2="465.2" stroke="#fff" stroke-width="0.8" stroke-dasharray="3 4"/>
<circle cx="1723.7" cy="477.3" r="6" fill="#fff"/>
<circle cx="1723.7" cy="477.3" r="2.6" fill="none" stroke="#000" stroke-width="1.62"/>
<line x1="1776.0" y1="519.5" x2="1671.5" y2="519.5" stroke="#000" stroke-width="5.94" />
<rect x="1673.0" y="522.5" width="102.4" height="11.1" fill="#fff" stroke="#000" stroke-width="3.0"/>
<rect x="1745.8" y="522.5" width="5.0" height="11.1" fill="#000"/>
<rect x="1732.7" y="522.5" width="3.6" height="11.1" fill="#000"/>
<rect x="1710.7" y="522.5" width="12.5" height="11.1" fill="#000"/>
<rect x="1697.1" y="522.5" width="5.0" height="11.1" fill="#000"/>
<line x1="1776.0" y1="536.4" x2="1623.3" y2="536.4" stroke="#000" stroke-width="5.67" />
<line x1="1775.3" y1="539.0" x2="1657.0" y2="679.0" stroke="#000" stroke-width="3.0" />
<line x1="1757.0" y1="558.0" x2="1633.0" y2="558.0" stroke="#000" stroke-width="3.0" />
<line x1="1641.4" y1="539.0" x2="1631.6" y2="556.8" stroke="#000" stroke-width="3.0" />
<circle cx="1753.3" cy="547.6" r="4.2" fill="#000"/>
<circle cx="1700.1" cy="547.6" r="4.2" fill="#000"/>
<circle cx="1647.4" cy="547.6" r="4.2" fill="#000"/>
<rect x="1484.8" y="738.8" width="16.2" height="15.4" fill="#fff" stroke="#000" stroke-width="3.0"/>
<rect x="1488.8" y="729.0" width="18.7" height="44.0" fill="#fff" stroke="#000" stroke-width="3.0"/>
<rect x="1489.0" y="726.0" width="18.0" height="5.0" fill="#000"/>
<rect x="1491.5" y="732.0" width="5.5" height="6.0" fill="none" stroke="#000" stroke-width="1.89"/>
<rect x="1499.5" y="732.0" width="5.5" height="6.0" fill="none" stroke="#000" stroke-width="1.89"/>
<line x1="1488.8" y1="755.0" x2="1507.5" y2="755.0" stroke="#000" stroke-width="3.0" />
<line x1="1488.8" y1="763.0" x2="1507.5" y2="763.0" stroke="#000" stroke-width="3.0" />
<line x1="1497.0" y1="755.0" x2="1497.0" y2="773.0" stroke="#000" stroke-width="2.43" />
<rect x="1626.0" y="738.8" width="24.5" height="15.4" fill="#fff" stroke="#000" stroke-width="3.0"/>
<rect x="1650.5" y="737.5" width="3.7" height="18.0" fill="#fff" stroke="#000" stroke-width="2.43"/>
<path d="M1502.0,746.3 L1636.9,746.3 L1636.9,754.6 L1620.1,761.6 L1620.1,1149.0 L1517.7,1149.0 L1517.7,761.6 L1502.0,754.6 Z" fill="#fff" stroke="#000" stroke-width="3.0" stroke-linejoin="miter"/>
<line x1="1502.0" y1="754.6" x2="1636.9" y2="754.6" stroke="#000" stroke-width="3.0" />
<line x1="1517.7" y1="762.5" x2="1620.1" y2="762.5" stroke="#000" stroke-width="3.0" />
<line x1="1517.7" y1="766.6" x2="1620.1" y2="766.6" stroke="#000" stroke-width="2.03" />
<circle cx="1543.0" cy="741.5" r="4.4" fill="#000"/>
<circle cx="1597.3" cy="741.5" r="4.4" fill="#000"/>
<line x1="1517.7" y1="792.3" x2="1620.1" y2="792.3" stroke="#000" stroke-width="3.0" />
<rect x="1524.0" y="790.0" width="24.0" height="2.0" fill="#000"/>
<rect x="1590.0" y="790.0" width="24.0" height="2.0" fill="#000"/>
<line x1="1517.7" y1="846.7" x2="1620.1" y2="846.7" stroke="#000" stroke-width="3.0" />
<line x1="1517.7" y1="856.5" x2="1620.1" y2="856.5" stroke="#000" stroke-width="3.0" />
<circle cx="1569.5" cy="852.0" r="8.0" fill="#000"/>
<circle cx="1569.5" cy="852" r="3.8" fill="#fff"/>
<circle cx="1569.5" cy="852.0" r="2.0" fill="#000"/>
<rect x="1549.6" y="946.3" width="39.9" height="122.2" fill="#fff" stroke="#000" stroke-width="4.86"/>
<rect x="1556.0" y="952.7" width="26.5" height="108.8" fill="none" stroke="#000" stroke-width="3.0"/>
<line x1="1549.6" y1="975.0" x2="1556.0" y2="975.0" stroke="#000" stroke-width="2.16" />
<line x1="1582.5" y1="975.0" x2="1589.5" y2="975.0" stroke="#000" stroke-width="2.16" />
<line x1="1549.6" y1="1005.0" x2="1556.0" y2="1005.0" stroke="#000" stroke-width="2.16" />
<line x1="1582.5" y1="1005.0" x2="1589.5" y2="1005.0" stroke="#000" stroke-width="2.16" />
<line x1="1549.6" y1="1035.0" x2="1556.0" y2="1035.0" stroke="#000" stroke-width="2.16" />
<line x1="1582.5" y1="1035.0" x2="1589.5" y2="1035.0" stroke="#000" stroke-width="2.16" />
<line x1="1549.6" y1="1050.0" x2="1556.0" y2="1050.0" stroke="#000" stroke-width="2.16" />
<line x1="1582.5" y1="1050.0" x2="1589.5" y2="1050.0" stroke="#000" stroke-width="2.16" />
</g>
</svg>
</body></html>
